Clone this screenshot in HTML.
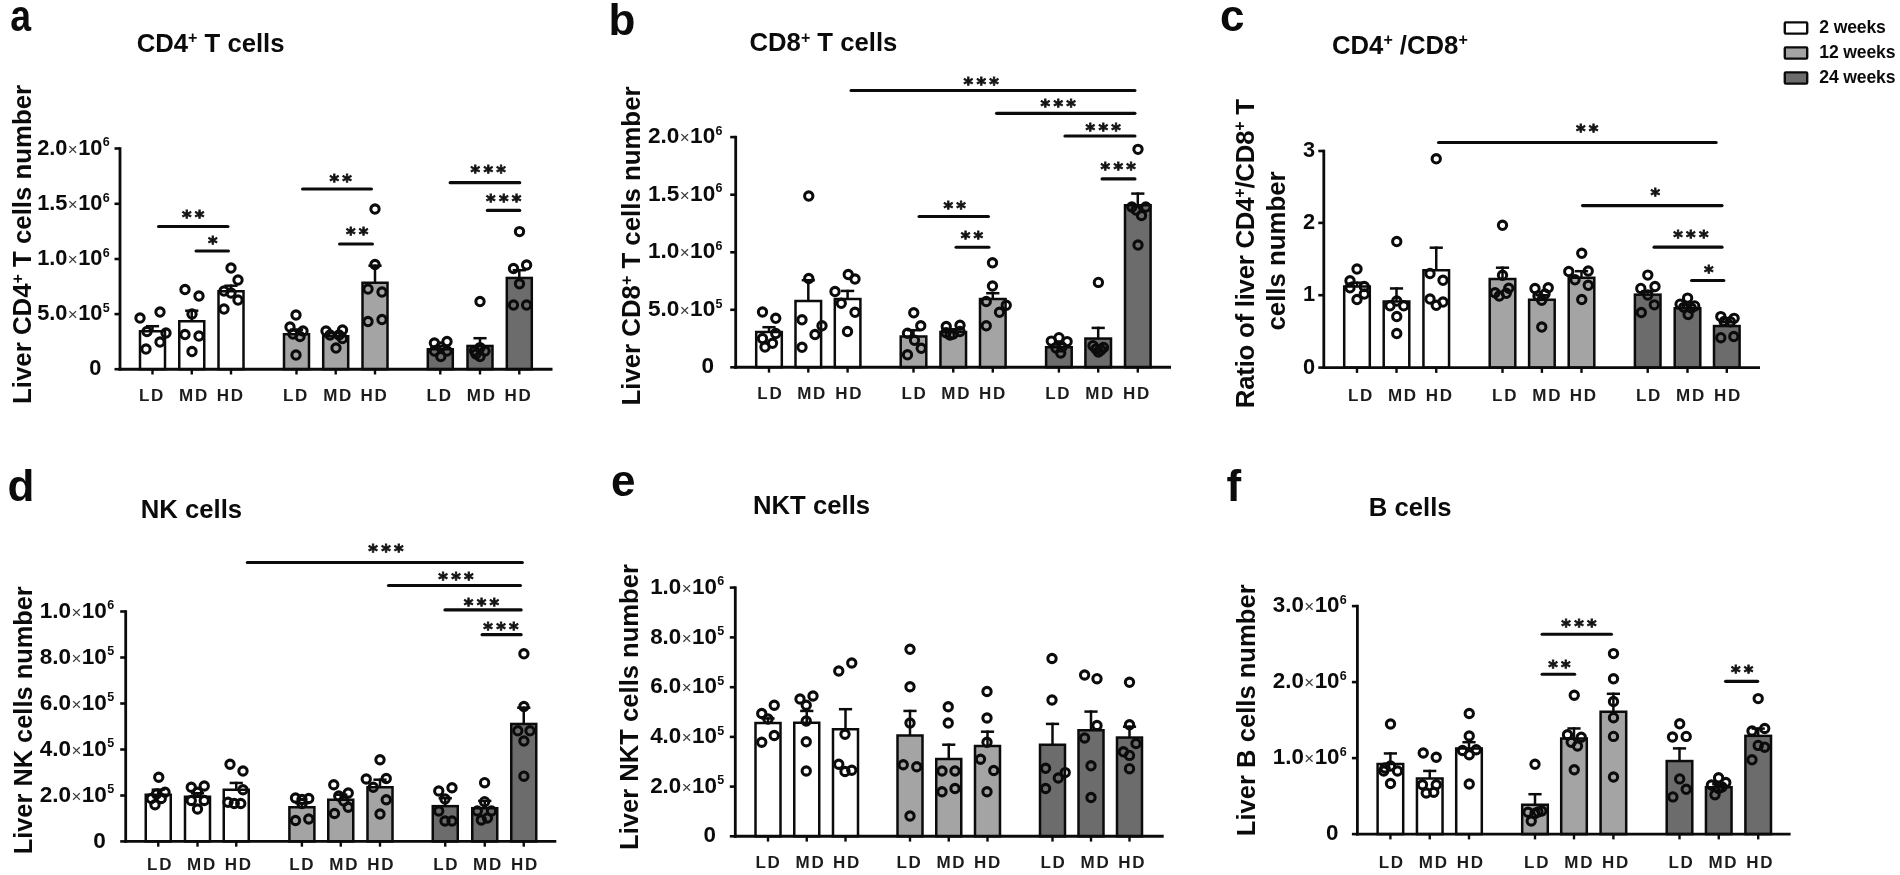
<!DOCTYPE html>
<html lang="en"><head><meta charset="utf-8"><title>Liver lymphocyte subsets</title>
<style>html,body{margin:0;padding:0;background:#fff}body{width:1900px;height:875px;overflow:hidden}svg{display:block;filter:blur(0.5px)}text{font-family:'Liberation Sans', Arial, sans-serif}text.st{font-family:"DejaVu Sans","Liberation Sans",sans-serif}</style></head><body>
<svg width="1900" height="875" viewBox="0 0 1900 875">
<rect width="1900" height="875" fill="#fff"/>
<g id="panel-a">
<rect x="140" y="331.25" width="25" height="37.95" fill="#ffffff" stroke="#0b0b0b" stroke-width="2.5"/>
<line x1="152.5" y1="325" x2="152.5" y2="331" stroke="#0b0b0b" stroke-width="2.5" stroke-linecap="butt"/>
<line x1="145.9" y1="326.2" x2="159.1" y2="326.2" stroke="#0b0b0b" stroke-width="2.5" stroke-linecap="butt"/>
<rect x="179.25" y="321.25" width="25" height="47.95" fill="#ffffff" stroke="#0b0b0b" stroke-width="2.5"/>
<line x1="191.75" y1="309.5" x2="191.75" y2="321" stroke="#0b0b0b" stroke-width="2.5" stroke-linecap="butt"/>
<line x1="185.15" y1="310.7" x2="198.35" y2="310.7" stroke="#0b0b0b" stroke-width="2.5" stroke-linecap="butt"/>
<rect x="218.5" y="291.25" width="25" height="77.95" fill="#ffffff" stroke="#0b0b0b" stroke-width="2.5"/>
<line x1="231" y1="284.5" x2="231" y2="291" stroke="#0b0b0b" stroke-width="2.5" stroke-linecap="butt"/>
<line x1="224.4" y1="285.7" x2="237.6" y2="285.7" stroke="#0b0b0b" stroke-width="2.5" stroke-linecap="butt"/>
<rect x="284" y="334.25" width="25" height="34.95" fill="#a4a4a4" stroke="#0b0b0b" stroke-width="2.5"/>
<line x1="296.5" y1="328.5" x2="296.5" y2="334" stroke="#0b0b0b" stroke-width="2.5" stroke-linecap="butt"/>
<line x1="289.9" y1="329.7" x2="303.1" y2="329.7" stroke="#0b0b0b" stroke-width="2.5" stroke-linecap="butt"/>
<rect x="323.2" y="336.25" width="25" height="32.95" fill="#a4a4a4" stroke="#0b0b0b" stroke-width="2.5"/>
<line x1="335.7" y1="332" x2="335.7" y2="336" stroke="#0b0b0b" stroke-width="2.5" stroke-linecap="butt"/>
<line x1="329.1" y1="333.2" x2="342.3" y2="333.2" stroke="#0b0b0b" stroke-width="2.5" stroke-linecap="butt"/>
<rect x="362.5" y="282.75" width="25" height="86.45" fill="#a4a4a4" stroke="#0b0b0b" stroke-width="2.5"/>
<line x1="375" y1="264.5" x2="375" y2="282.5" stroke="#0b0b0b" stroke-width="2.5" stroke-linecap="butt"/>
<line x1="368.4" y1="265.7" x2="381.6" y2="265.7" stroke="#0b0b0b" stroke-width="2.5" stroke-linecap="butt"/>
<rect x="427.8" y="349.25" width="25" height="19.95" fill="#6c6c6c" stroke="#0b0b0b" stroke-width="2.5"/>
<line x1="440.3" y1="345" x2="440.3" y2="349" stroke="#0b0b0b" stroke-width="2.5" stroke-linecap="butt"/>
<line x1="433.7" y1="346.2" x2="446.9" y2="346.2" stroke="#0b0b0b" stroke-width="2.5" stroke-linecap="butt"/>
<rect x="467.5" y="345.95" width="25" height="23.25" fill="#6c6c6c" stroke="#0b0b0b" stroke-width="2.5"/>
<line x1="480" y1="337" x2="480" y2="345.7" stroke="#0b0b0b" stroke-width="2.5" stroke-linecap="butt"/>
<line x1="473.4" y1="338.2" x2="486.6" y2="338.2" stroke="#0b0b0b" stroke-width="2.5" stroke-linecap="butt"/>
<rect x="506.8" y="277.95" width="25" height="91.25" fill="#6c6c6c" stroke="#0b0b0b" stroke-width="2.5"/>
<line x1="519.3" y1="269" x2="519.3" y2="277.7" stroke="#0b0b0b" stroke-width="2.5" stroke-linecap="butt"/>
<line x1="512.7" y1="270.2" x2="525.9" y2="270.2" stroke="#0b0b0b" stroke-width="2.5" stroke-linecap="butt"/>
<line x1="120" y1="147.2" x2="120" y2="370.6" stroke="#0b0b0b" stroke-width="2.8" stroke-linecap="butt"/>
<line x1="118.6" y1="369.2" x2="552.5" y2="369.2" stroke="#0b0b0b" stroke-width="2.9" stroke-linecap="butt"/>
<line x1="114.5" y1="369.2" x2="120" y2="369.2" stroke="#0b0b0b" stroke-width="2.6" stroke-linecap="butt"/>
<text x="101.4" y="375.3" font-size="21.8" font-weight="bold" text-anchor="end" fill="#0b0b0b">0</text>
<line x1="114.5" y1="314.1" x2="120" y2="314.1" stroke="#0b0b0b" stroke-width="2.6" stroke-linecap="butt"/>
<text x="109.7" y="320.2" font-size="21.8" font-weight="bold" text-anchor="end" fill="#0b0b0b">5.0<tspan font-size="17" font-weight="normal" fill="#3a3a3a" dx="0.4">&#215;</tspan><tspan dx="0.4">10</tspan><tspan font-size="12.5" dy="-8.4" dx="0.3">5</tspan></text>
<line x1="114.5" y1="259" x2="120" y2="259" stroke="#0b0b0b" stroke-width="2.6" stroke-linecap="butt"/>
<text x="109.7" y="265.1" font-size="21.8" font-weight="bold" text-anchor="end" fill="#0b0b0b">1.0<tspan font-size="17" font-weight="normal" fill="#3a3a3a" dx="0.4">&#215;</tspan><tspan dx="0.4">10</tspan><tspan font-size="12.5" dy="-8.4" dx="0.3">6</tspan></text>
<line x1="114.5" y1="203.8" x2="120" y2="203.8" stroke="#0b0b0b" stroke-width="2.6" stroke-linecap="butt"/>
<text x="109.7" y="209.9" font-size="21.8" font-weight="bold" text-anchor="end" fill="#0b0b0b">1.5<tspan font-size="17" font-weight="normal" fill="#3a3a3a" dx="0.4">&#215;</tspan><tspan dx="0.4">10</tspan><tspan font-size="12.5" dy="-8.4" dx="0.3">6</tspan></text>
<line x1="114.5" y1="148.5" x2="120" y2="148.5" stroke="#0b0b0b" stroke-width="2.6" stroke-linecap="butt"/>
<text x="109.7" y="154.6" font-size="21.8" font-weight="bold" text-anchor="end" fill="#0b0b0b">2.0<tspan font-size="17" font-weight="normal" fill="#3a3a3a" dx="0.4">&#215;</tspan><tspan dx="0.4">10</tspan><tspan font-size="12.5" dy="-8.4" dx="0.3">6</tspan></text>
<line x1="152.5" y1="369.2" x2="152.5" y2="374.5" stroke="#0b0b0b" stroke-width="2.4" stroke-linecap="butt"/>
<text transform="translate(151.95 400.8) scale(1 1)" font-size="17" font-weight="bold" text-anchor="middle" letter-spacing="1.7" fill="#1c1c1c">LD</text>
<line x1="191.75" y1="369.2" x2="191.75" y2="374.5" stroke="#0b0b0b" stroke-width="2.4" stroke-linecap="butt"/>
<text transform="translate(193.95 400.8) scale(1 1)" font-size="17" font-weight="bold" text-anchor="middle" letter-spacing="1.7" fill="#1c1c1c">MD</text>
<line x1="231" y1="369.2" x2="231" y2="374.5" stroke="#0b0b0b" stroke-width="2.4" stroke-linecap="butt"/>
<text transform="translate(230.85 400.8) scale(1 1)" font-size="17" font-weight="bold" text-anchor="middle" letter-spacing="1.7" fill="#1c1c1c">HD</text>
<line x1="296.5" y1="369.2" x2="296.5" y2="374.5" stroke="#0b0b0b" stroke-width="2.4" stroke-linecap="butt"/>
<text transform="translate(295.95 400.8) scale(1 1)" font-size="17" font-weight="bold" text-anchor="middle" letter-spacing="1.7" fill="#1c1c1c">LD</text>
<line x1="335.7" y1="369.2" x2="335.7" y2="374.5" stroke="#0b0b0b" stroke-width="2.4" stroke-linecap="butt"/>
<text transform="translate(338.05 400.8) scale(1 1)" font-size="17" font-weight="bold" text-anchor="middle" letter-spacing="1.7" fill="#1c1c1c">MD</text>
<line x1="375" y1="369.2" x2="375" y2="374.5" stroke="#0b0b0b" stroke-width="2.4" stroke-linecap="butt"/>
<text transform="translate(374.55 400.8) scale(1 1)" font-size="17" font-weight="bold" text-anchor="middle" letter-spacing="1.7" fill="#1c1c1c">HD</text>
<line x1="440.3" y1="369.2" x2="440.3" y2="374.5" stroke="#0b0b0b" stroke-width="2.4" stroke-linecap="butt"/>
<text transform="translate(439.65 400.8) scale(1 1)" font-size="17" font-weight="bold" text-anchor="middle" letter-spacing="1.7" fill="#1c1c1c">LD</text>
<line x1="480" y1="369.2" x2="480" y2="374.5" stroke="#0b0b0b" stroke-width="2.4" stroke-linecap="butt"/>
<text transform="translate(481.75 400.8) scale(1 1)" font-size="17" font-weight="bold" text-anchor="middle" letter-spacing="1.7" fill="#1c1c1c">MD</text>
<line x1="519.3" y1="369.2" x2="519.3" y2="374.5" stroke="#0b0b0b" stroke-width="2.4" stroke-linecap="butt"/>
<text transform="translate(518.45 400.8) scale(1 1)" font-size="17" font-weight="bold" text-anchor="middle" letter-spacing="1.7" fill="#1c1c1c">HD</text>
<circle cx="140" cy="318" r="4.15" fill="none" stroke="#0b0b0b" stroke-width="3.05"/>
<circle cx="160" cy="312" r="4.15" fill="none" stroke="#0b0b0b" stroke-width="3.05"/>
<circle cx="147" cy="331.5" r="4.15" fill="none" stroke="#0b0b0b" stroke-width="3.05"/>
<circle cx="166" cy="333" r="4.15" fill="none" stroke="#0b0b0b" stroke-width="3.05"/>
<circle cx="160" cy="342" r="4.15" fill="none" stroke="#0b0b0b" stroke-width="3.05"/>
<circle cx="146" cy="349" r="4.15" fill="none" stroke="#0b0b0b" stroke-width="3.05"/>
<circle cx="185" cy="289.5" r="4.15" fill="none" stroke="#0b0b0b" stroke-width="3.05"/>
<circle cx="199" cy="296" r="4.15" fill="none" stroke="#0b0b0b" stroke-width="3.05"/>
<circle cx="192" cy="314" r="4.15" fill="none" stroke="#0b0b0b" stroke-width="3.05"/>
<circle cx="185" cy="334.5" r="4.15" fill="none" stroke="#0b0b0b" stroke-width="3.05"/>
<circle cx="199" cy="336" r="4.15" fill="none" stroke="#0b0b0b" stroke-width="3.05"/>
<circle cx="192" cy="351.5" r="4.15" fill="none" stroke="#0b0b0b" stroke-width="3.05"/>
<circle cx="231" cy="268" r="4.15" fill="none" stroke="#0b0b0b" stroke-width="3.05"/>
<circle cx="238" cy="280" r="4.15" fill="none" stroke="#0b0b0b" stroke-width="3.05"/>
<circle cx="224" cy="291" r="4.15" fill="none" stroke="#0b0b0b" stroke-width="3.05"/>
<circle cx="231" cy="293" r="4.15" fill="none" stroke="#0b0b0b" stroke-width="3.05"/>
<circle cx="238" cy="300" r="4.15" fill="none" stroke="#0b0b0b" stroke-width="3.05"/>
<circle cx="224" cy="309" r="4.15" fill="none" stroke="#0b0b0b" stroke-width="3.05"/>
<circle cx="296" cy="315" r="4.15" fill="none" stroke="#0b0b0b" stroke-width="3.05"/>
<circle cx="290" cy="327" r="4.15" fill="none" stroke="#0b0b0b" stroke-width="3.05"/>
<circle cx="303" cy="331" r="4.15" fill="none" stroke="#0b0b0b" stroke-width="3.05"/>
<circle cx="293" cy="334" r="4.15" fill="none" stroke="#0b0b0b" stroke-width="3.05"/>
<circle cx="300" cy="336.5" r="4.15" fill="none" stroke="#0b0b0b" stroke-width="3.05"/>
<circle cx="296" cy="355" r="4.15" fill="none" stroke="#0b0b0b" stroke-width="3.05"/>
<circle cx="326" cy="331" r="4.15" fill="none" stroke="#0b0b0b" stroke-width="3.05"/>
<circle cx="342.5" cy="330" r="4.15" fill="none" stroke="#0b0b0b" stroke-width="3.05"/>
<circle cx="330" cy="335" r="4.15" fill="none" stroke="#0b0b0b" stroke-width="3.05"/>
<circle cx="339" cy="335" r="4.15" fill="none" stroke="#0b0b0b" stroke-width="3.05"/>
<circle cx="342.5" cy="338.5" r="4.15" fill="none" stroke="#0b0b0b" stroke-width="3.05"/>
<circle cx="336" cy="348" r="4.15" fill="none" stroke="#0b0b0b" stroke-width="3.05"/>
<circle cx="375" cy="209" r="4.15" fill="none" stroke="#0b0b0b" stroke-width="3.05"/>
<circle cx="375" cy="264.5" r="4.15" fill="none" stroke="#0b0b0b" stroke-width="3.05"/>
<circle cx="368" cy="289" r="4.15" fill="none" stroke="#0b0b0b" stroke-width="3.05"/>
<circle cx="382" cy="292" r="4.15" fill="none" stroke="#0b0b0b" stroke-width="3.05"/>
<circle cx="368" cy="321.5" r="4.15" fill="none" stroke="#0b0b0b" stroke-width="3.05"/>
<circle cx="382" cy="319.5" r="4.15" fill="none" stroke="#0b0b0b" stroke-width="3.05"/>
<circle cx="434.4" cy="343" r="4.15" fill="none" stroke="#0b0b0b" stroke-width="3.05"/>
<circle cx="447" cy="341.5" r="4.15" fill="none" stroke="#0b0b0b" stroke-width="3.05"/>
<circle cx="434.4" cy="351" r="4.15" fill="none" stroke="#0b0b0b" stroke-width="3.05"/>
<circle cx="447" cy="351" r="4.15" fill="none" stroke="#0b0b0b" stroke-width="3.05"/>
<circle cx="440.8" cy="356.5" r="4.15" fill="none" stroke="#0b0b0b" stroke-width="3.05"/>
<circle cx="440.8" cy="347" r="4.15" fill="none" stroke="#0b0b0b" stroke-width="3.05"/>
<circle cx="480" cy="301.5" r="4.15" fill="none" stroke="#0b0b0b" stroke-width="3.05"/>
<circle cx="474.5" cy="351" r="4.15" fill="none" stroke="#0b0b0b" stroke-width="3.05"/>
<circle cx="485" cy="351" r="4.15" fill="none" stroke="#0b0b0b" stroke-width="3.05"/>
<circle cx="480" cy="356.5" r="4.15" fill="none" stroke="#0b0b0b" stroke-width="3.05"/>
<circle cx="480" cy="347.6" r="4.15" fill="none" stroke="#0b0b0b" stroke-width="3.05"/>
<circle cx="476" cy="354" r="4.15" fill="none" stroke="#0b0b0b" stroke-width="3.05"/>
<circle cx="519.5" cy="231.6" r="4.15" fill="none" stroke="#0b0b0b" stroke-width="3.05"/>
<circle cx="513.5" cy="268.5" r="4.15" fill="none" stroke="#0b0b0b" stroke-width="3.05"/>
<circle cx="526.6" cy="265" r="4.15" fill="none" stroke="#0b0b0b" stroke-width="3.05"/>
<circle cx="519.5" cy="283.8" r="4.15" fill="none" stroke="#0b0b0b" stroke-width="3.05"/>
<circle cx="513.5" cy="305" r="4.15" fill="none" stroke="#0b0b0b" stroke-width="3.05"/>
<circle cx="526.6" cy="305" r="4.15" fill="none" stroke="#0b0b0b" stroke-width="3.05"/>
<line x1="158.6" y1="226.5" x2="227.9" y2="226.5" stroke="#0b0b0b" stroke-width="3.2" stroke-linecap="round"/>
<text class="st" x="194.85" y="223.1" font-size="18.3" font-weight="bold" text-anchor="middle" letter-spacing="3.3" fill="#131313" stroke="#131313" stroke-width="0.8">**</text>
<line x1="196.1" y1="251" x2="228.4" y2="251" stroke="#0b0b0b" stroke-width="3.2" stroke-linecap="round"/>
<text class="st" x="214.35" y="248.6" font-size="18.3" font-weight="bold" text-anchor="middle" letter-spacing="3.3" fill="#131313" stroke="#131313" stroke-width="0.8">*</text>
<line x1="302.6" y1="189" x2="371.4" y2="189" stroke="#0b0b0b" stroke-width="3.2" stroke-linecap="round"/>
<text class="st" x="342.35" y="186.6" font-size="18.3" font-weight="bold" text-anchor="middle" letter-spacing="3.3" fill="#131313" stroke="#131313" stroke-width="0.8">**</text>
<line x1="339.6" y1="244" x2="372.4" y2="244" stroke="#0b0b0b" stroke-width="3.2" stroke-linecap="round"/>
<text class="st" x="358.85" y="240.1" font-size="18.3" font-weight="bold" text-anchor="middle" letter-spacing="3.3" fill="#131313" stroke="#131313" stroke-width="0.8">**</text>
<line x1="450.2" y1="182.7" x2="519.7" y2="182.7" stroke="#0b0b0b" stroke-width="3.2" stroke-linecap="round"/>
<text class="st" x="489.85" y="178.2" font-size="18.3" font-weight="bold" text-anchor="middle" letter-spacing="3.3" fill="#131313" stroke="#131313" stroke-width="0.8">***</text>
<line x1="487.4" y1="210.4" x2="519.7" y2="210.4" stroke="#0b0b0b" stroke-width="3.2" stroke-linecap="round"/>
<text class="st" x="505.35" y="207.2" font-size="18.3" font-weight="bold" text-anchor="middle" letter-spacing="3.3" fill="#131313" stroke="#131313" stroke-width="0.8">***</text>
<text transform="translate(10.15 30.5) scale(0.85 1)" font-size="44" font-weight="bold" fill="#0b0b0b">a</text>
<text x="136.7" y="51.5" font-size="25.7" font-weight="bold" text-anchor="start" fill="#0b0b0b">CD4<tspan font-size="16" dy="-8.5">+</tspan><tspan dy="8.5"> T cells</tspan></text>
<text transform="translate(31 244.4) rotate(-90)" font-size="25.8" font-weight="bold" text-anchor="middle" letter-spacing="0" fill="#0b0b0b">Liver CD4<tspan font-size="16" dy="-8.5">+</tspan><tspan dy="8.5"> T cells number</tspan></text>
</g>
<g id="panel-b">
<rect x="756.2" y="332" width="25.6" height="35.3" fill="#ffffff" stroke="#0b0b0b" stroke-width="2.5"/>
<line x1="769" y1="326" x2="769" y2="331.75" stroke="#0b0b0b" stroke-width="2.5" stroke-linecap="butt"/>
<line x1="762.4" y1="327.2" x2="775.6" y2="327.2" stroke="#0b0b0b" stroke-width="2.5" stroke-linecap="butt"/>
<rect x="795.5" y="301" width="25.6" height="66.3" fill="#ffffff" stroke="#0b0b0b" stroke-width="2.5"/>
<line x1="808.3" y1="279" x2="808.3" y2="300.75" stroke="#0b0b0b" stroke-width="2.5" stroke-linecap="butt"/>
<line x1="801.7" y1="280.2" x2="814.9" y2="280.2" stroke="#0b0b0b" stroke-width="2.5" stroke-linecap="butt"/>
<rect x="834.8" y="299" width="25.6" height="68.3" fill="#ffffff" stroke="#0b0b0b" stroke-width="2.5"/>
<line x1="847.6" y1="289.75" x2="847.6" y2="298.75" stroke="#0b0b0b" stroke-width="2.5" stroke-linecap="butt"/>
<line x1="841" y1="290.95" x2="854.2" y2="290.95" stroke="#0b0b0b" stroke-width="2.5" stroke-linecap="butt"/>
<rect x="900.7" y="336.5" width="25.6" height="30.8" fill="#a4a4a4" stroke="#0b0b0b" stroke-width="2.5"/>
<line x1="913.5" y1="329" x2="913.5" y2="336.25" stroke="#0b0b0b" stroke-width="2.5" stroke-linecap="butt"/>
<line x1="906.9" y1="330.2" x2="920.1" y2="330.2" stroke="#0b0b0b" stroke-width="2.5" stroke-linecap="butt"/>
<rect x="940.45" y="332" width="25.6" height="35.3" fill="#a4a4a4" stroke="#0b0b0b" stroke-width="2.5"/>
<line x1="953.25" y1="328" x2="953.25" y2="331.75" stroke="#0b0b0b" stroke-width="2.5" stroke-linecap="butt"/>
<line x1="946.65" y1="329.2" x2="959.85" y2="329.2" stroke="#0b0b0b" stroke-width="2.5" stroke-linecap="butt"/>
<rect x="980" y="299" width="25.6" height="68.3" fill="#a4a4a4" stroke="#0b0b0b" stroke-width="2.5"/>
<line x1="992.8" y1="292" x2="992.8" y2="298.75" stroke="#0b0b0b" stroke-width="2.5" stroke-linecap="butt"/>
<line x1="986.2" y1="293.2" x2="999.4" y2="293.2" stroke="#0b0b0b" stroke-width="2.5" stroke-linecap="butt"/>
<rect x="1046.1" y="347.25" width="25.6" height="20.05" fill="#6c6c6c" stroke="#0b0b0b" stroke-width="2.5"/>
<line x1="1058.9" y1="343" x2="1058.9" y2="347" stroke="#0b0b0b" stroke-width="2.5" stroke-linecap="butt"/>
<line x1="1052.3" y1="344.2" x2="1065.5" y2="344.2" stroke="#0b0b0b" stroke-width="2.5" stroke-linecap="butt"/>
<rect x="1085.4" y="338.55" width="25.6" height="28.75" fill="#6c6c6c" stroke="#0b0b0b" stroke-width="2.5"/>
<line x1="1098.2" y1="326.7" x2="1098.2" y2="338.3" stroke="#0b0b0b" stroke-width="2.5" stroke-linecap="butt"/>
<line x1="1091.6" y1="327.9" x2="1104.8" y2="327.9" stroke="#0b0b0b" stroke-width="2.5" stroke-linecap="butt"/>
<rect x="1125" y="205.25" width="25.6" height="162.05" fill="#6c6c6c" stroke="#0b0b0b" stroke-width="2.5"/>
<line x1="1137.8" y1="192.4" x2="1137.8" y2="205" stroke="#0b0b0b" stroke-width="2.5" stroke-linecap="butt"/>
<line x1="1131.2" y1="193.6" x2="1144.4" y2="193.6" stroke="#0b0b0b" stroke-width="2.5" stroke-linecap="butt"/>
<line x1="735.7" y1="135.8" x2="735.7" y2="368.7" stroke="#0b0b0b" stroke-width="2.8" stroke-linecap="butt"/>
<line x1="734.3" y1="367.3" x2="1171" y2="367.3" stroke="#0b0b0b" stroke-width="2.9" stroke-linecap="butt"/>
<line x1="730.2" y1="367.3" x2="735.7" y2="367.3" stroke="#0b0b0b" stroke-width="2.6" stroke-linecap="butt"/>
<text x="714.2" y="373.4" font-size="22.6" font-weight="bold" text-anchor="end" fill="#0b0b0b">0</text>
<line x1="730.2" y1="309.8" x2="735.7" y2="309.8" stroke="#0b0b0b" stroke-width="2.6" stroke-linecap="butt"/>
<text x="722.5" y="315.9" font-size="22.6" font-weight="bold" text-anchor="end" fill="#0b0b0b">5.0<tspan font-size="17" font-weight="normal" fill="#3a3a3a" dx="0.4">&#215;</tspan><tspan dx="0.4">10</tspan><tspan font-size="12.5" dy="-8.4" dx="0.3">5</tspan></text>
<line x1="730.2" y1="252.3" x2="735.7" y2="252.3" stroke="#0b0b0b" stroke-width="2.6" stroke-linecap="butt"/>
<text x="722.5" y="258.4" font-size="22.6" font-weight="bold" text-anchor="end" fill="#0b0b0b">1.0<tspan font-size="17" font-weight="normal" fill="#3a3a3a" dx="0.4">&#215;</tspan><tspan dx="0.4">10</tspan><tspan font-size="12.5" dy="-8.4" dx="0.3">6</tspan></text>
<line x1="730.2" y1="194.7" x2="735.7" y2="194.7" stroke="#0b0b0b" stroke-width="2.6" stroke-linecap="butt"/>
<text x="722.5" y="200.8" font-size="22.6" font-weight="bold" text-anchor="end" fill="#0b0b0b">1.5<tspan font-size="17" font-weight="normal" fill="#3a3a3a" dx="0.4">&#215;</tspan><tspan dx="0.4">10</tspan><tspan font-size="12.5" dy="-8.4" dx="0.3">6</tspan></text>
<line x1="730.2" y1="137.1" x2="735.7" y2="137.1" stroke="#0b0b0b" stroke-width="2.6" stroke-linecap="butt"/>
<text x="722.5" y="143.2" font-size="22.6" font-weight="bold" text-anchor="end" fill="#0b0b0b">2.0<tspan font-size="17" font-weight="normal" fill="#3a3a3a" dx="0.4">&#215;</tspan><tspan dx="0.4">10</tspan><tspan font-size="12.5" dy="-8.4" dx="0.3">6</tspan></text>
<line x1="769" y1="367.3" x2="769" y2="372.6" stroke="#0b0b0b" stroke-width="2.4" stroke-linecap="butt"/>
<text transform="translate(770.35 399) scale(1 1)" font-size="17" font-weight="bold" text-anchor="middle" letter-spacing="1.7" fill="#1c1c1c">LD</text>
<line x1="808.3" y1="367.3" x2="808.3" y2="372.6" stroke="#0b0b0b" stroke-width="2.4" stroke-linecap="butt"/>
<text transform="translate(812.15 399) scale(1 1)" font-size="17" font-weight="bold" text-anchor="middle" letter-spacing="1.7" fill="#1c1c1c">MD</text>
<line x1="847.6" y1="367.3" x2="847.6" y2="372.6" stroke="#0b0b0b" stroke-width="2.4" stroke-linecap="butt"/>
<text transform="translate(849.15 399) scale(1 1)" font-size="17" font-weight="bold" text-anchor="middle" letter-spacing="1.7" fill="#1c1c1c">HD</text>
<line x1="913.5" y1="367.3" x2="913.5" y2="372.6" stroke="#0b0b0b" stroke-width="2.4" stroke-linecap="butt"/>
<text transform="translate(914.55 399) scale(1 1)" font-size="17" font-weight="bold" text-anchor="middle" letter-spacing="1.7" fill="#1c1c1c">LD</text>
<line x1="953.25" y1="367.3" x2="953.25" y2="372.6" stroke="#0b0b0b" stroke-width="2.4" stroke-linecap="butt"/>
<text transform="translate(956.25 399) scale(1 1)" font-size="17" font-weight="bold" text-anchor="middle" letter-spacing="1.7" fill="#1c1c1c">MD</text>
<line x1="992.8" y1="367.3" x2="992.8" y2="372.6" stroke="#0b0b0b" stroke-width="2.4" stroke-linecap="butt"/>
<text transform="translate(992.95 399) scale(1 1)" font-size="17" font-weight="bold" text-anchor="middle" letter-spacing="1.7" fill="#1c1c1c">HD</text>
<line x1="1058.9" y1="367.3" x2="1058.9" y2="372.6" stroke="#0b0b0b" stroke-width="2.4" stroke-linecap="butt"/>
<text transform="translate(1058.25 399) scale(1 1)" font-size="17" font-weight="bold" text-anchor="middle" letter-spacing="1.7" fill="#1c1c1c">LD</text>
<line x1="1098.2" y1="367.3" x2="1098.2" y2="372.6" stroke="#0b0b0b" stroke-width="2.4" stroke-linecap="butt"/>
<text transform="translate(1100.15 399) scale(1 1)" font-size="17" font-weight="bold" text-anchor="middle" letter-spacing="1.7" fill="#1c1c1c">MD</text>
<line x1="1137.8" y1="367.3" x2="1137.8" y2="372.6" stroke="#0b0b0b" stroke-width="2.4" stroke-linecap="butt"/>
<text transform="translate(1137.05 399) scale(1 1)" font-size="17" font-weight="bold" text-anchor="middle" letter-spacing="1.7" fill="#1c1c1c">HD</text>
<circle cx="762.5" cy="312" r="4.15" fill="none" stroke="#0b0b0b" stroke-width="3.05"/>
<circle cx="775.75" cy="318.25" r="4.15" fill="none" stroke="#0b0b0b" stroke-width="3.05"/>
<circle cx="775.75" cy="333.5" r="4.15" fill="none" stroke="#0b0b0b" stroke-width="3.05"/>
<circle cx="762.5" cy="338.5" r="4.15" fill="none" stroke="#0b0b0b" stroke-width="3.05"/>
<circle cx="772.5" cy="343.25" r="4.15" fill="none" stroke="#0b0b0b" stroke-width="3.05"/>
<circle cx="765" cy="347" r="4.15" fill="none" stroke="#0b0b0b" stroke-width="3.05"/>
<circle cx="808.75" cy="196" r="4.15" fill="none" stroke="#0b0b0b" stroke-width="3.05"/>
<circle cx="808.75" cy="278.5" r="4.15" fill="none" stroke="#0b0b0b" stroke-width="3.05"/>
<circle cx="802" cy="319.75" r="4.15" fill="none" stroke="#0b0b0b" stroke-width="3.05"/>
<circle cx="822" cy="325.75" r="4.15" fill="none" stroke="#0b0b0b" stroke-width="3.05"/>
<circle cx="815" cy="334.5" r="4.15" fill="none" stroke="#0b0b0b" stroke-width="3.05"/>
<circle cx="802" cy="347.25" r="4.15" fill="none" stroke="#0b0b0b" stroke-width="3.05"/>
<circle cx="848.25" cy="274.5" r="4.15" fill="none" stroke="#0b0b0b" stroke-width="3.05"/>
<circle cx="855" cy="279" r="4.15" fill="none" stroke="#0b0b0b" stroke-width="3.05"/>
<circle cx="835" cy="291.5" r="4.15" fill="none" stroke="#0b0b0b" stroke-width="3.05"/>
<circle cx="841.25" cy="303.25" r="4.15" fill="none" stroke="#0b0b0b" stroke-width="3.05"/>
<circle cx="855" cy="312.25" r="4.15" fill="none" stroke="#0b0b0b" stroke-width="3.05"/>
<circle cx="847.5" cy="331.5" r="4.15" fill="none" stroke="#0b0b0b" stroke-width="3.05"/>
<circle cx="913.75" cy="312.75" r="4.15" fill="none" stroke="#0b0b0b" stroke-width="3.05"/>
<circle cx="920.75" cy="325.75" r="4.15" fill="none" stroke="#0b0b0b" stroke-width="3.05"/>
<circle cx="907.5" cy="333.25" r="4.15" fill="none" stroke="#0b0b0b" stroke-width="3.05"/>
<circle cx="914.5" cy="340.25" r="4.15" fill="none" stroke="#0b0b0b" stroke-width="3.05"/>
<circle cx="921.25" cy="348.25" r="4.15" fill="none" stroke="#0b0b0b" stroke-width="3.05"/>
<circle cx="907.5" cy="354.75" r="4.15" fill="none" stroke="#0b0b0b" stroke-width="3.05"/>
<circle cx="946.25" cy="326.5" r="4.15" fill="none" stroke="#0b0b0b" stroke-width="3.05"/>
<circle cx="960" cy="325.25" r="4.15" fill="none" stroke="#0b0b0b" stroke-width="3.05"/>
<circle cx="946" cy="332.75" r="4.15" fill="none" stroke="#0b0b0b" stroke-width="3.05"/>
<circle cx="953.25" cy="334" r="4.15" fill="none" stroke="#0b0b0b" stroke-width="3.05"/>
<circle cx="960" cy="331.5" r="4.15" fill="none" stroke="#0b0b0b" stroke-width="3.05"/>
<circle cx="950" cy="335" r="4.15" fill="none" stroke="#0b0b0b" stroke-width="3.05"/>
<circle cx="992.5" cy="262.75" r="4.15" fill="none" stroke="#0b0b0b" stroke-width="3.05"/>
<circle cx="992.5" cy="286" r="4.15" fill="none" stroke="#0b0b0b" stroke-width="3.05"/>
<circle cx="986.25" cy="301.5" r="4.15" fill="none" stroke="#0b0b0b" stroke-width="3.05"/>
<circle cx="1006.25" cy="305.25" r="4.15" fill="none" stroke="#0b0b0b" stroke-width="3.05"/>
<circle cx="999.5" cy="312.25" r="4.15" fill="none" stroke="#0b0b0b" stroke-width="3.05"/>
<circle cx="986.25" cy="325.75" r="4.15" fill="none" stroke="#0b0b0b" stroke-width="3.05"/>
<circle cx="1051.3" cy="341.1" r="4.15" fill="none" stroke="#0b0b0b" stroke-width="3.05"/>
<circle cx="1059" cy="337.7" r="4.15" fill="none" stroke="#0b0b0b" stroke-width="3.05"/>
<circle cx="1067.1" cy="341.6" r="4.15" fill="none" stroke="#0b0b0b" stroke-width="3.05"/>
<circle cx="1056" cy="348" r="4.15" fill="none" stroke="#0b0b0b" stroke-width="3.05"/>
<circle cx="1060.7" cy="353.1" r="4.15" fill="none" stroke="#0b0b0b" stroke-width="3.05"/>
<circle cx="1062" cy="347" r="4.15" fill="none" stroke="#0b0b0b" stroke-width="3.05"/>
<circle cx="1098.4" cy="282.4" r="4.15" fill="none" stroke="#0b0b0b" stroke-width="3.05"/>
<circle cx="1093" cy="345.7" r="4.15" fill="none" stroke="#0b0b0b" stroke-width="3.05"/>
<circle cx="1103.5" cy="347.5" r="4.15" fill="none" stroke="#0b0b0b" stroke-width="3.05"/>
<circle cx="1098.4" cy="352" r="4.15" fill="none" stroke="#0b0b0b" stroke-width="3.05"/>
<circle cx="1096" cy="349" r="4.15" fill="none" stroke="#0b0b0b" stroke-width="3.05"/>
<circle cx="1101" cy="350" r="4.15" fill="none" stroke="#0b0b0b" stroke-width="3.05"/>
<circle cx="1138" cy="149.3" r="4.15" fill="none" stroke="#0b0b0b" stroke-width="3.05"/>
<circle cx="1131.8" cy="207" r="4.15" fill="none" stroke="#0b0b0b" stroke-width="3.05"/>
<circle cx="1145.8" cy="207" r="4.15" fill="none" stroke="#0b0b0b" stroke-width="3.05"/>
<circle cx="1141.5" cy="215.6" r="4.15" fill="none" stroke="#0b0b0b" stroke-width="3.05"/>
<circle cx="1138" cy="245" r="4.15" fill="none" stroke="#0b0b0b" stroke-width="3.05"/>
<circle cx="1136" cy="210" r="4.15" fill="none" stroke="#0b0b0b" stroke-width="3.05"/>
<line x1="851.1" y1="90.5" x2="1134.9" y2="90.5" stroke="#0b0b0b" stroke-width="3.2" stroke-linecap="round"/>
<text class="st" x="982.85" y="89.6" font-size="18.3" font-weight="bold" text-anchor="middle" letter-spacing="3.3" fill="#131313" stroke="#131313" stroke-width="0.8">***</text>
<line x1="996.6" y1="113.3" x2="1134.9" y2="113.3" stroke="#0b0b0b" stroke-width="3.2" stroke-linecap="round"/>
<text class="st" x="1059.85" y="112.2" font-size="18.3" font-weight="bold" text-anchor="middle" letter-spacing="3.3" fill="#131313" stroke="#131313" stroke-width="0.8">***</text>
<line x1="1065" y1="136" x2="1134.9" y2="136" stroke="#0b0b0b" stroke-width="3.2" stroke-linecap="round"/>
<text class="st" x="1104.85" y="135.6" font-size="18.3" font-weight="bold" text-anchor="middle" letter-spacing="3.3" fill="#131313" stroke="#131313" stroke-width="0.8">***</text>
<line x1="1102.1" y1="178.9" x2="1134.9" y2="178.9" stroke="#0b0b0b" stroke-width="3.2" stroke-linecap="round"/>
<text class="st" x="1119.85" y="174.6" font-size="18.3" font-weight="bold" text-anchor="middle" letter-spacing="3.3" fill="#131313" stroke="#131313" stroke-width="0.8">***</text>
<line x1="919.1" y1="216.5" x2="988.4" y2="216.5" stroke="#0b0b0b" stroke-width="3.2" stroke-linecap="round"/>
<text class="st" x="956.35" y="214.1" font-size="18.3" font-weight="bold" text-anchor="middle" letter-spacing="3.3" fill="#131313" stroke="#131313" stroke-width="0.8">**</text>
<line x1="956.1" y1="247.25" x2="988.9" y2="247.25" stroke="#0b0b0b" stroke-width="3.2" stroke-linecap="round"/>
<text class="st" x="973.6" y="243.6" font-size="18.3" font-weight="bold" text-anchor="middle" letter-spacing="3.3" fill="#131313" stroke="#131313" stroke-width="0.8">**</text>
<text transform="translate(608.5 35.3) scale(1 1)" font-size="44" font-weight="bold" fill="#0b0b0b">b</text>
<text x="749.5" y="51" font-size="25.7" font-weight="bold" text-anchor="start" fill="#0b0b0b">CD8<tspan font-size="16" dy="-8.5">+</tspan><tspan dy="8.5"> T cells</tspan></text>
<text transform="translate(640 246) rotate(-90)" font-size="25.8" font-weight="bold" text-anchor="middle" letter-spacing="0" fill="#0b0b0b">Liver CD8<tspan font-size="16" dy="-8.5">+</tspan><tspan dy="8.5"> T cells number</tspan></text>
</g>
<g id="panel-c">
<rect x="1344.2" y="286.5" width="25.6" height="81.1" fill="#ffffff" stroke="#0b0b0b" stroke-width="2.5"/>
<line x1="1357" y1="281.5" x2="1357" y2="286.25" stroke="#0b0b0b" stroke-width="2.5" stroke-linecap="butt"/>
<line x1="1350.4" y1="282.7" x2="1363.6" y2="282.7" stroke="#0b0b0b" stroke-width="2.5" stroke-linecap="butt"/>
<rect x="1383.7" y="301.5" width="25.6" height="66.1" fill="#ffffff" stroke="#0b0b0b" stroke-width="2.5"/>
<line x1="1396.5" y1="287.25" x2="1396.5" y2="301.25" stroke="#0b0b0b" stroke-width="2.5" stroke-linecap="butt"/>
<line x1="1389.9" y1="288.45" x2="1403.1" y2="288.45" stroke="#0b0b0b" stroke-width="2.5" stroke-linecap="butt"/>
<rect x="1423.45" y="270.25" width="25.6" height="97.35" fill="#ffffff" stroke="#0b0b0b" stroke-width="2.5"/>
<line x1="1436.25" y1="246.5" x2="1436.25" y2="270" stroke="#0b0b0b" stroke-width="2.5" stroke-linecap="butt"/>
<line x1="1429.65" y1="247.7" x2="1442.85" y2="247.7" stroke="#0b0b0b" stroke-width="2.5" stroke-linecap="butt"/>
<rect x="1489.7" y="279" width="25.6" height="88.6" fill="#a4a4a4" stroke="#0b0b0b" stroke-width="2.5"/>
<line x1="1502.5" y1="266.5" x2="1502.5" y2="278.75" stroke="#0b0b0b" stroke-width="2.5" stroke-linecap="butt"/>
<line x1="1495.9" y1="267.7" x2="1509.1" y2="267.7" stroke="#0b0b0b" stroke-width="2.5" stroke-linecap="butt"/>
<rect x="1529.1" y="299.75" width="25.6" height="67.85" fill="#a4a4a4" stroke="#0b0b0b" stroke-width="2.5"/>
<line x1="1541.9" y1="294" x2="1541.9" y2="299.5" stroke="#0b0b0b" stroke-width="2.5" stroke-linecap="butt"/>
<line x1="1535.3" y1="295.2" x2="1548.5" y2="295.2" stroke="#0b0b0b" stroke-width="2.5" stroke-linecap="butt"/>
<rect x="1568.7" y="277.75" width="25.6" height="89.85" fill="#a4a4a4" stroke="#0b0b0b" stroke-width="2.5"/>
<line x1="1581.5" y1="270" x2="1581.5" y2="277.5" stroke="#0b0b0b" stroke-width="2.5" stroke-linecap="butt"/>
<line x1="1574.9" y1="271.2" x2="1588.1" y2="271.2" stroke="#0b0b0b" stroke-width="2.5" stroke-linecap="butt"/>
<rect x="1634.9" y="294.65" width="25.6" height="72.95" fill="#6c6c6c" stroke="#0b0b0b" stroke-width="2.5"/>
<line x1="1647.7" y1="290" x2="1647.7" y2="294.4" stroke="#0b0b0b" stroke-width="2.5" stroke-linecap="butt"/>
<line x1="1641.1" y1="291.2" x2="1654.3" y2="291.2" stroke="#0b0b0b" stroke-width="2.5" stroke-linecap="butt"/>
<rect x="1674.7" y="308.25" width="25.6" height="59.35" fill="#6c6c6c" stroke="#0b0b0b" stroke-width="2.5"/>
<line x1="1687.5" y1="304" x2="1687.5" y2="308" stroke="#0b0b0b" stroke-width="2.5" stroke-linecap="butt"/>
<line x1="1680.9" y1="305.2" x2="1694.1" y2="305.2" stroke="#0b0b0b" stroke-width="2.5" stroke-linecap="butt"/>
<rect x="1714" y="326.05" width="25.6" height="41.55" fill="#6c6c6c" stroke="#0b0b0b" stroke-width="2.5"/>
<line x1="1726.8" y1="321" x2="1726.8" y2="325.8" stroke="#0b0b0b" stroke-width="2.5" stroke-linecap="butt"/>
<line x1="1720.2" y1="322.2" x2="1733.4" y2="322.2" stroke="#0b0b0b" stroke-width="2.5" stroke-linecap="butt"/>
<line x1="1323.8" y1="149.7" x2="1323.8" y2="369" stroke="#0b0b0b" stroke-width="2.8" stroke-linecap="butt"/>
<line x1="1322.4" y1="367.6" x2="1760" y2="367.6" stroke="#0b0b0b" stroke-width="2.9" stroke-linecap="butt"/>
<line x1="1318.3" y1="367.6" x2="1323.8" y2="367.6" stroke="#0b0b0b" stroke-width="2.6" stroke-linecap="butt"/>
<text x="1315.2" y="373.7" font-size="21.8" font-weight="bold" text-anchor="end" fill="#0b0b0b">0</text>
<line x1="1318.3" y1="295.2" x2="1323.8" y2="295.2" stroke="#0b0b0b" stroke-width="2.6" stroke-linecap="butt"/>
<text x="1315.2" y="301.3" font-size="21.8" font-weight="bold" text-anchor="end" fill="#0b0b0b">1</text>
<line x1="1318.3" y1="222.9" x2="1323.8" y2="222.9" stroke="#0b0b0b" stroke-width="2.6" stroke-linecap="butt"/>
<text x="1315.2" y="229" font-size="21.8" font-weight="bold" text-anchor="end" fill="#0b0b0b">2</text>
<line x1="1318.3" y1="151" x2="1323.8" y2="151" stroke="#0b0b0b" stroke-width="2.6" stroke-linecap="butt"/>
<text x="1315.2" y="157.1" font-size="21.8" font-weight="bold" text-anchor="end" fill="#0b0b0b">3</text>
<line x1="1357" y1="367.6" x2="1357" y2="372.9" stroke="#0b0b0b" stroke-width="2.4" stroke-linecap="butt"/>
<text transform="translate(1361.05 400.8) scale(1 1)" font-size="17" font-weight="bold" text-anchor="middle" letter-spacing="1.7" fill="#1c1c1c">LD</text>
<line x1="1396.5" y1="367.6" x2="1396.5" y2="372.9" stroke="#0b0b0b" stroke-width="2.4" stroke-linecap="butt"/>
<text transform="translate(1402.85 400.8) scale(1 1)" font-size="17" font-weight="bold" text-anchor="middle" letter-spacing="1.7" fill="#1c1c1c">MD</text>
<line x1="1436.25" y1="367.6" x2="1436.25" y2="372.9" stroke="#0b0b0b" stroke-width="2.4" stroke-linecap="butt"/>
<text transform="translate(1439.75 400.8) scale(1 1)" font-size="17" font-weight="bold" text-anchor="middle" letter-spacing="1.7" fill="#1c1c1c">HD</text>
<line x1="1502.5" y1="367.6" x2="1502.5" y2="372.9" stroke="#0b0b0b" stroke-width="2.4" stroke-linecap="butt"/>
<text transform="translate(1505.15 400.8) scale(1 1)" font-size="17" font-weight="bold" text-anchor="middle" letter-spacing="1.7" fill="#1c1c1c">LD</text>
<line x1="1541.9" y1="367.6" x2="1541.9" y2="372.9" stroke="#0b0b0b" stroke-width="2.4" stroke-linecap="butt"/>
<text transform="translate(1547.25 400.8) scale(1 1)" font-size="17" font-weight="bold" text-anchor="middle" letter-spacing="1.7" fill="#1c1c1c">MD</text>
<line x1="1581.5" y1="367.6" x2="1581.5" y2="372.9" stroke="#0b0b0b" stroke-width="2.4" stroke-linecap="butt"/>
<text transform="translate(1583.85 400.8) scale(1 1)" font-size="17" font-weight="bold" text-anchor="middle" letter-spacing="1.7" fill="#1c1c1c">HD</text>
<line x1="1647.7" y1="367.6" x2="1647.7" y2="372.9" stroke="#0b0b0b" stroke-width="2.4" stroke-linecap="butt"/>
<text transform="translate(1649.05 400.8) scale(1 1)" font-size="17" font-weight="bold" text-anchor="middle" letter-spacing="1.7" fill="#1c1c1c">LD</text>
<line x1="1687.5" y1="367.6" x2="1687.5" y2="372.9" stroke="#0b0b0b" stroke-width="2.4" stroke-linecap="butt"/>
<text transform="translate(1690.95 400.8) scale(1 1)" font-size="17" font-weight="bold" text-anchor="middle" letter-spacing="1.7" fill="#1c1c1c">MD</text>
<line x1="1726.8" y1="367.6" x2="1726.8" y2="372.9" stroke="#0b0b0b" stroke-width="2.4" stroke-linecap="butt"/>
<text transform="translate(1728.05 400.8) scale(1 1)" font-size="17" font-weight="bold" text-anchor="middle" letter-spacing="1.7" fill="#1c1c1c">HD</text>
<circle cx="1357" cy="269" r="4.15" fill="none" stroke="#0b0b0b" stroke-width="3.05"/>
<circle cx="1350" cy="280.75" r="4.15" fill="none" stroke="#0b0b0b" stroke-width="3.05"/>
<circle cx="1350" cy="287.75" r="4.15" fill="none" stroke="#0b0b0b" stroke-width="3.05"/>
<circle cx="1364.25" cy="286.5" r="4.15" fill="none" stroke="#0b0b0b" stroke-width="3.05"/>
<circle cx="1364.25" cy="294" r="4.15" fill="none" stroke="#0b0b0b" stroke-width="3.05"/>
<circle cx="1357" cy="299.5" r="4.15" fill="none" stroke="#0b0b0b" stroke-width="3.05"/>
<circle cx="1396.75" cy="241.5" r="4.15" fill="none" stroke="#0b0b0b" stroke-width="3.05"/>
<circle cx="1390" cy="305.75" r="4.15" fill="none" stroke="#0b0b0b" stroke-width="3.05"/>
<circle cx="1403.75" cy="305.75" r="4.15" fill="none" stroke="#0b0b0b" stroke-width="3.05"/>
<circle cx="1396.75" cy="316.5" r="4.15" fill="none" stroke="#0b0b0b" stroke-width="3.05"/>
<circle cx="1396.75" cy="333.5" r="4.15" fill="none" stroke="#0b0b0b" stroke-width="3.05"/>
<circle cx="1396.75" cy="301" r="4.15" fill="none" stroke="#0b0b0b" stroke-width="3.05"/>
<circle cx="1436.25" cy="158.75" r="4.15" fill="none" stroke="#0b0b0b" stroke-width="3.05"/>
<circle cx="1430" cy="273.5" r="4.15" fill="none" stroke="#0b0b0b" stroke-width="3.05"/>
<circle cx="1443" cy="280.25" r="4.15" fill="none" stroke="#0b0b0b" stroke-width="3.05"/>
<circle cx="1430" cy="299" r="4.15" fill="none" stroke="#0b0b0b" stroke-width="3.05"/>
<circle cx="1443" cy="302" r="4.15" fill="none" stroke="#0b0b0b" stroke-width="3.05"/>
<circle cx="1436.25" cy="305.25" r="4.15" fill="none" stroke="#0b0b0b" stroke-width="3.05"/>
<circle cx="1502.5" cy="225.25" r="4.15" fill="none" stroke="#0b0b0b" stroke-width="3.05"/>
<circle cx="1502.5" cy="275.25" r="4.15" fill="none" stroke="#0b0b0b" stroke-width="3.05"/>
<circle cx="1508.75" cy="288.25" r="4.15" fill="none" stroke="#0b0b0b" stroke-width="3.05"/>
<circle cx="1495" cy="292.75" r="4.15" fill="none" stroke="#0b0b0b" stroke-width="3.05"/>
<circle cx="1506.25" cy="293.25" r="4.15" fill="none" stroke="#0b0b0b" stroke-width="3.05"/>
<circle cx="1499.25" cy="296" r="4.15" fill="none" stroke="#0b0b0b" stroke-width="3.05"/>
<circle cx="1535" cy="288.5" r="4.15" fill="none" stroke="#0b0b0b" stroke-width="3.05"/>
<circle cx="1548.25" cy="287.75" r="4.15" fill="none" stroke="#0b0b0b" stroke-width="3.05"/>
<circle cx="1538" cy="296" r="4.15" fill="none" stroke="#0b0b0b" stroke-width="3.05"/>
<circle cx="1545" cy="294" r="4.15" fill="none" stroke="#0b0b0b" stroke-width="3.05"/>
<circle cx="1541.75" cy="300.25" r="4.15" fill="none" stroke="#0b0b0b" stroke-width="3.05"/>
<circle cx="1541.75" cy="327" r="4.15" fill="none" stroke="#0b0b0b" stroke-width="3.05"/>
<circle cx="1581.75" cy="253.25" r="4.15" fill="none" stroke="#0b0b0b" stroke-width="3.05"/>
<circle cx="1568.75" cy="271.5" r="4.15" fill="none" stroke="#0b0b0b" stroke-width="3.05"/>
<circle cx="1588.25" cy="271" r="4.15" fill="none" stroke="#0b0b0b" stroke-width="3.05"/>
<circle cx="1575" cy="279.75" r="4.15" fill="none" stroke="#0b0b0b" stroke-width="3.05"/>
<circle cx="1588.25" cy="285.25" r="4.15" fill="none" stroke="#0b0b0b" stroke-width="3.05"/>
<circle cx="1581.75" cy="299.5" r="4.15" fill="none" stroke="#0b0b0b" stroke-width="3.05"/>
<circle cx="1647.8" cy="275.1" r="4.15" fill="none" stroke="#0b0b0b" stroke-width="3.05"/>
<circle cx="1640.8" cy="288.4" r="4.15" fill="none" stroke="#0b0b0b" stroke-width="3.05"/>
<circle cx="1655" cy="286.5" r="4.15" fill="none" stroke="#0b0b0b" stroke-width="3.05"/>
<circle cx="1647.8" cy="295" r="4.15" fill="none" stroke="#0b0b0b" stroke-width="3.05"/>
<circle cx="1654.3" cy="304.8" r="4.15" fill="none" stroke="#0b0b0b" stroke-width="3.05"/>
<circle cx="1641.3" cy="312.5" r="4.15" fill="none" stroke="#0b0b0b" stroke-width="3.05"/>
<circle cx="1687.6" cy="298.1" r="4.15" fill="none" stroke="#0b0b0b" stroke-width="3.05"/>
<circle cx="1680.1" cy="304.2" r="4.15" fill="none" stroke="#0b0b0b" stroke-width="3.05"/>
<circle cx="1694.7" cy="305.9" r="4.15" fill="none" stroke="#0b0b0b" stroke-width="3.05"/>
<circle cx="1683.8" cy="307.3" r="4.15" fill="none" stroke="#0b0b0b" stroke-width="3.05"/>
<circle cx="1691.3" cy="308" r="4.15" fill="none" stroke="#0b0b0b" stroke-width="3.05"/>
<circle cx="1688.1" cy="314.6" r="4.15" fill="none" stroke="#0b0b0b" stroke-width="3.05"/>
<circle cx="1720.8" cy="316.6" r="4.15" fill="none" stroke="#0b0b0b" stroke-width="3.05"/>
<circle cx="1734.1" cy="318.3" r="4.15" fill="none" stroke="#0b0b0b" stroke-width="3.05"/>
<circle cx="1724.2" cy="321.4" r="4.15" fill="none" stroke="#0b0b0b" stroke-width="3.05"/>
<circle cx="1730.4" cy="321.7" r="4.15" fill="none" stroke="#0b0b0b" stroke-width="3.05"/>
<circle cx="1720.8" cy="337.7" r="4.15" fill="none" stroke="#0b0b0b" stroke-width="3.05"/>
<circle cx="1733.8" cy="336.5" r="4.15" fill="none" stroke="#0b0b0b" stroke-width="3.05"/>
<line x1="1438.6" y1="142.5" x2="1716.1" y2="142.5" stroke="#0b0b0b" stroke-width="3.2" stroke-linecap="round"/>
<text class="st" x="1588.85" y="136.6" font-size="18.3" font-weight="bold" text-anchor="middle" letter-spacing="3.3" fill="#131313" stroke="#131313" stroke-width="0.8">**</text>
<line x1="1582.6" y1="205.6" x2="1722" y2="205.6" stroke="#0b0b0b" stroke-width="3.2" stroke-linecap="round"/>
<text class="st" x="1656.85" y="201.4" font-size="18.3" font-weight="bold" text-anchor="middle" letter-spacing="3.3" fill="#131313" stroke="#131313" stroke-width="0.8">*</text>
<line x1="1654.1" y1="247.2" x2="1722" y2="247.2" stroke="#0b0b0b" stroke-width="3.2" stroke-linecap="round"/>
<text class="st" x="1692.55" y="242.6" font-size="18.3" font-weight="bold" text-anchor="middle" letter-spacing="3.3" fill="#131313" stroke="#131313" stroke-width="0.8">***</text>
<line x1="1691.6" y1="280.5" x2="1723.8" y2="280.5" stroke="#0b0b0b" stroke-width="3.2" stroke-linecap="round"/>
<text class="st" x="1710.35" y="277.6" font-size="18.3" font-weight="bold" text-anchor="middle" letter-spacing="3.3" fill="#131313" stroke="#131313" stroke-width="0.8">*</text>
<text transform="translate(1220.1 30.5) scale(1 1)" font-size="44" font-weight="bold" fill="#0b0b0b">c</text>
<text x="1332" y="53.5" font-size="25.7" font-weight="bold" text-anchor="start" fill="#0b0b0b">CD4<tspan font-size="16" dy="-8.5">+</tspan><tspan dy="8.5"> /CD8</tspan><tspan font-size="16" dy="-8.5">+</tspan></text>
<text transform="translate(1253.6 253.7) rotate(-90)" font-size="25.8" font-weight="bold" text-anchor="middle" letter-spacing="-0.25" fill="#0b0b0b">Ratio of liver CD4<tspan font-size="16" dy="-8.5">+</tspan><tspan dy="8.5">/CD8</tspan><tspan font-size="16" dy="-8.5">+</tspan><tspan dy="8.5"> T</tspan></text>
<text transform="translate(1284.5 251) rotate(-90)" font-size="25.8" font-weight="bold" text-anchor="middle" letter-spacing="0" fill="#0b0b0b">cells number</text>
</g>
<g id="panel-d">
<rect x="145.75" y="794.75" width="25" height="46.65" fill="#ffffff" stroke="#0b0b0b" stroke-width="2.5"/>
<line x1="158.25" y1="788.5" x2="158.25" y2="794.5" stroke="#0b0b0b" stroke-width="2.5" stroke-linecap="butt"/>
<line x1="151.65" y1="789.7" x2="164.85" y2="789.7" stroke="#0b0b0b" stroke-width="2.5" stroke-linecap="butt"/>
<rect x="185" y="796.75" width="25" height="44.65" fill="#ffffff" stroke="#0b0b0b" stroke-width="2.5"/>
<line x1="197.5" y1="792" x2="197.5" y2="796.5" stroke="#0b0b0b" stroke-width="2.5" stroke-linecap="butt"/>
<line x1="190.9" y1="793.2" x2="204.1" y2="793.2" stroke="#0b0b0b" stroke-width="2.5" stroke-linecap="butt"/>
<rect x="223.75" y="789.75" width="25" height="51.65" fill="#ffffff" stroke="#0b0b0b" stroke-width="2.5"/>
<line x1="236.25" y1="781.75" x2="236.25" y2="789.5" stroke="#0b0b0b" stroke-width="2.5" stroke-linecap="butt"/>
<line x1="229.65" y1="782.95" x2="242.85" y2="782.95" stroke="#0b0b0b" stroke-width="2.5" stroke-linecap="butt"/>
<rect x="289.4" y="807.25" width="25" height="34.15" fill="#a4a4a4" stroke="#0b0b0b" stroke-width="2.5"/>
<line x1="301.9" y1="802" x2="301.9" y2="807" stroke="#0b0b0b" stroke-width="2.5" stroke-linecap="butt"/>
<line x1="295.3" y1="803.2" x2="308.5" y2="803.2" stroke="#0b0b0b" stroke-width="2.5" stroke-linecap="butt"/>
<rect x="328.25" y="799.75" width="25" height="41.65" fill="#a4a4a4" stroke="#0b0b0b" stroke-width="2.5"/>
<line x1="340.75" y1="793.5" x2="340.75" y2="799.5" stroke="#0b0b0b" stroke-width="2.5" stroke-linecap="butt"/>
<line x1="334.15" y1="794.7" x2="347.35" y2="794.7" stroke="#0b0b0b" stroke-width="2.5" stroke-linecap="butt"/>
<rect x="367.5" y="787.25" width="25" height="54.15" fill="#a4a4a4" stroke="#0b0b0b" stroke-width="2.5"/>
<line x1="380" y1="778.5" x2="380" y2="787" stroke="#0b0b0b" stroke-width="2.5" stroke-linecap="butt"/>
<line x1="373.4" y1="779.7" x2="386.6" y2="779.7" stroke="#0b0b0b" stroke-width="2.5" stroke-linecap="butt"/>
<rect x="432.75" y="806.15" width="25" height="35.25" fill="#6c6c6c" stroke="#0b0b0b" stroke-width="2.5"/>
<line x1="445.25" y1="797" x2="445.25" y2="805.9" stroke="#0b0b0b" stroke-width="2.5" stroke-linecap="butt"/>
<line x1="438.65" y1="798.2" x2="451.85" y2="798.2" stroke="#0b0b0b" stroke-width="2.5" stroke-linecap="butt"/>
<rect x="472.25" y="808.25" width="25" height="33.15" fill="#6c6c6c" stroke="#0b0b0b" stroke-width="2.5"/>
<line x1="484.75" y1="799.7" x2="484.75" y2="808" stroke="#0b0b0b" stroke-width="2.5" stroke-linecap="butt"/>
<line x1="478.15" y1="800.9" x2="491.35" y2="800.9" stroke="#0b0b0b" stroke-width="2.5" stroke-linecap="butt"/>
<rect x="511.25" y="723.95" width="25" height="117.45" fill="#6c6c6c" stroke="#0b0b0b" stroke-width="2.5"/>
<line x1="523.75" y1="706.5" x2="523.75" y2="723.7" stroke="#0b0b0b" stroke-width="2.5" stroke-linecap="butt"/>
<line x1="517.15" y1="707.7" x2="530.35" y2="707.7" stroke="#0b0b0b" stroke-width="2.5" stroke-linecap="butt"/>
<line x1="125.7" y1="610.2" x2="125.7" y2="842.8" stroke="#0b0b0b" stroke-width="2.8" stroke-linecap="butt"/>
<line x1="124.3" y1="841.4" x2="556.3" y2="841.4" stroke="#0b0b0b" stroke-width="2.9" stroke-linecap="butt"/>
<line x1="120.2" y1="841.4" x2="125.7" y2="841.4" stroke="#0b0b0b" stroke-width="2.6" stroke-linecap="butt"/>
<text x="105.9" y="847.5" font-size="22.6" font-weight="bold" text-anchor="end" fill="#0b0b0b">0</text>
<line x1="120.2" y1="795.5" x2="125.7" y2="795.5" stroke="#0b0b0b" stroke-width="2.6" stroke-linecap="butt"/>
<text x="114.2" y="801.6" font-size="22.6" font-weight="bold" text-anchor="end" fill="#0b0b0b">2.0<tspan font-size="17" font-weight="normal" fill="#3a3a3a" dx="0.4">&#215;</tspan><tspan dx="0.4">10</tspan><tspan font-size="12.5" dy="-8.4" dx="0.3">5</tspan></text>
<line x1="120.2" y1="749.5" x2="125.7" y2="749.5" stroke="#0b0b0b" stroke-width="2.6" stroke-linecap="butt"/>
<text x="114.2" y="755.6" font-size="22.6" font-weight="bold" text-anchor="end" fill="#0b0b0b">4.0<tspan font-size="17" font-weight="normal" fill="#3a3a3a" dx="0.4">&#215;</tspan><tspan dx="0.4">10</tspan><tspan font-size="12.5" dy="-8.4" dx="0.3">5</tspan></text>
<line x1="120.2" y1="703.5" x2="125.7" y2="703.5" stroke="#0b0b0b" stroke-width="2.6" stroke-linecap="butt"/>
<text x="114.2" y="709.6" font-size="22.6" font-weight="bold" text-anchor="end" fill="#0b0b0b">6.0<tspan font-size="17" font-weight="normal" fill="#3a3a3a" dx="0.4">&#215;</tspan><tspan dx="0.4">10</tspan><tspan font-size="12.5" dy="-8.4" dx="0.3">5</tspan></text>
<line x1="120.2" y1="657.5" x2="125.7" y2="657.5" stroke="#0b0b0b" stroke-width="2.6" stroke-linecap="butt"/>
<text x="114.2" y="663.6" font-size="22.6" font-weight="bold" text-anchor="end" fill="#0b0b0b">8.0<tspan font-size="17" font-weight="normal" fill="#3a3a3a" dx="0.4">&#215;</tspan><tspan dx="0.4">10</tspan><tspan font-size="12.5" dy="-8.4" dx="0.3">5</tspan></text>
<line x1="120.2" y1="611.5" x2="125.7" y2="611.5" stroke="#0b0b0b" stroke-width="2.6" stroke-linecap="butt"/>
<text x="114.2" y="617.6" font-size="22.6" font-weight="bold" text-anchor="end" fill="#0b0b0b">1.0<tspan font-size="17" font-weight="normal" fill="#3a3a3a" dx="0.4">&#215;</tspan><tspan dx="0.4">10</tspan><tspan font-size="12.5" dy="-8.4" dx="0.3">6</tspan></text>
<line x1="158.25" y1="841.4" x2="158.25" y2="846.7" stroke="#0b0b0b" stroke-width="2.4" stroke-linecap="butt"/>
<text transform="translate(160.15 869.7) scale(1 1)" font-size="17" font-weight="bold" text-anchor="middle" letter-spacing="1.7" fill="#1c1c1c">LD</text>
<line x1="197.5" y1="841.4" x2="197.5" y2="846.7" stroke="#0b0b0b" stroke-width="2.4" stroke-linecap="butt"/>
<text transform="translate(201.95 869.7) scale(1 1)" font-size="17" font-weight="bold" text-anchor="middle" letter-spacing="1.7" fill="#1c1c1c">MD</text>
<line x1="236.25" y1="841.4" x2="236.25" y2="846.7" stroke="#0b0b0b" stroke-width="2.4" stroke-linecap="butt"/>
<text transform="translate(238.65 869.7) scale(1 1)" font-size="17" font-weight="bold" text-anchor="middle" letter-spacing="1.7" fill="#1c1c1c">HD</text>
<line x1="301.9" y1="841.4" x2="301.9" y2="846.7" stroke="#0b0b0b" stroke-width="2.4" stroke-linecap="butt"/>
<text transform="translate(302.25 869.7) scale(1 1)" font-size="17" font-weight="bold" text-anchor="middle" letter-spacing="1.7" fill="#1c1c1c">LD</text>
<line x1="340.75" y1="841.4" x2="340.75" y2="846.7" stroke="#0b0b0b" stroke-width="2.4" stroke-linecap="butt"/>
<text transform="translate(344.25 869.7) scale(1 1)" font-size="17" font-weight="bold" text-anchor="middle" letter-spacing="1.7" fill="#1c1c1c">MD</text>
<line x1="380" y1="841.4" x2="380" y2="846.7" stroke="#0b0b0b" stroke-width="2.4" stroke-linecap="butt"/>
<text transform="translate(381.15 869.7) scale(1 1)" font-size="17" font-weight="bold" text-anchor="middle" letter-spacing="1.7" fill="#1c1c1c">HD</text>
<line x1="445.25" y1="841.4" x2="445.25" y2="846.7" stroke="#0b0b0b" stroke-width="2.4" stroke-linecap="butt"/>
<text transform="translate(446.25 869.7) scale(1 1)" font-size="17" font-weight="bold" text-anchor="middle" letter-spacing="1.7" fill="#1c1c1c">LD</text>
<line x1="484.75" y1="841.4" x2="484.75" y2="846.7" stroke="#0b0b0b" stroke-width="2.4" stroke-linecap="butt"/>
<text transform="translate(487.95 869.7) scale(1 1)" font-size="17" font-weight="bold" text-anchor="middle" letter-spacing="1.7" fill="#1c1c1c">MD</text>
<line x1="523.75" y1="841.4" x2="523.75" y2="846.7" stroke="#0b0b0b" stroke-width="2.4" stroke-linecap="butt"/>
<text transform="translate(524.95 869.7) scale(1 1)" font-size="17" font-weight="bold" text-anchor="middle" letter-spacing="1.7" fill="#1c1c1c">HD</text>
<circle cx="158.75" cy="777.25" r="4.15" fill="none" stroke="#0b0b0b" stroke-width="3.05"/>
<circle cx="165" cy="792.25" r="4.15" fill="none" stroke="#0b0b0b" stroke-width="3.05"/>
<circle cx="151.25" cy="798.5" r="4.15" fill="none" stroke="#0b0b0b" stroke-width="3.05"/>
<circle cx="161.25" cy="798.5" r="4.15" fill="none" stroke="#0b0b0b" stroke-width="3.05"/>
<circle cx="155" cy="804.75" r="4.15" fill="none" stroke="#0b0b0b" stroke-width="3.05"/>
<circle cx="156.5" cy="794" r="4.15" fill="none" stroke="#0b0b0b" stroke-width="3.05"/>
<circle cx="191.25" cy="787.25" r="4.15" fill="none" stroke="#0b0b0b" stroke-width="3.05"/>
<circle cx="204.25" cy="786" r="4.15" fill="none" stroke="#0b0b0b" stroke-width="3.05"/>
<circle cx="197.5" cy="792.25" r="4.15" fill="none" stroke="#0b0b0b" stroke-width="3.05"/>
<circle cx="191.25" cy="800.5" r="4.15" fill="none" stroke="#0b0b0b" stroke-width="3.05"/>
<circle cx="204.25" cy="800.5" r="4.15" fill="none" stroke="#0b0b0b" stroke-width="3.05"/>
<circle cx="197.5" cy="809" r="4.15" fill="none" stroke="#0b0b0b" stroke-width="3.05"/>
<circle cx="230" cy="764.25" r="4.15" fill="none" stroke="#0b0b0b" stroke-width="3.05"/>
<circle cx="243" cy="771" r="4.15" fill="none" stroke="#0b0b0b" stroke-width="3.05"/>
<circle cx="243" cy="789.75" r="4.15" fill="none" stroke="#0b0b0b" stroke-width="3.05"/>
<circle cx="228" cy="802.25" r="4.15" fill="none" stroke="#0b0b0b" stroke-width="3.05"/>
<circle cx="234.25" cy="803.5" r="4.15" fill="none" stroke="#0b0b0b" stroke-width="3.05"/>
<circle cx="240.75" cy="803.5" r="4.15" fill="none" stroke="#0b0b0b" stroke-width="3.05"/>
<circle cx="295.5" cy="798" r="4.15" fill="none" stroke="#0b0b0b" stroke-width="3.05"/>
<circle cx="308.75" cy="798.5" r="4.15" fill="none" stroke="#0b0b0b" stroke-width="3.05"/>
<circle cx="302" cy="803.5" r="4.15" fill="none" stroke="#0b0b0b" stroke-width="3.05"/>
<circle cx="295.5" cy="820.5" r="4.15" fill="none" stroke="#0b0b0b" stroke-width="3.05"/>
<circle cx="308.75" cy="819" r="4.15" fill="none" stroke="#0b0b0b" stroke-width="3.05"/>
<circle cx="302" cy="799.5" r="4.15" fill="none" stroke="#0b0b0b" stroke-width="3.05"/>
<circle cx="333.75" cy="784.75" r="4.15" fill="none" stroke="#0b0b0b" stroke-width="3.05"/>
<circle cx="348.25" cy="793" r="4.15" fill="none" stroke="#0b0b0b" stroke-width="3.05"/>
<circle cx="338.75" cy="796" r="4.15" fill="none" stroke="#0b0b0b" stroke-width="3.05"/>
<circle cx="348.25" cy="807.25" r="4.15" fill="none" stroke="#0b0b0b" stroke-width="3.05"/>
<circle cx="334.5" cy="813.5" r="4.15" fill="none" stroke="#0b0b0b" stroke-width="3.05"/>
<circle cx="343.75" cy="801" r="4.15" fill="none" stroke="#0b0b0b" stroke-width="3.05"/>
<circle cx="380" cy="759.75" r="4.15" fill="none" stroke="#0b0b0b" stroke-width="3.05"/>
<circle cx="366.25" cy="779" r="4.15" fill="none" stroke="#0b0b0b" stroke-width="3.05"/>
<circle cx="386.25" cy="778.5" r="4.15" fill="none" stroke="#0b0b0b" stroke-width="3.05"/>
<circle cx="373.25" cy="787.25" r="4.15" fill="none" stroke="#0b0b0b" stroke-width="3.05"/>
<circle cx="386.25" cy="799.75" r="4.15" fill="none" stroke="#0b0b0b" stroke-width="3.05"/>
<circle cx="380" cy="814" r="4.15" fill="none" stroke="#0b0b0b" stroke-width="3.05"/>
<circle cx="438.75" cy="791" r="4.15" fill="none" stroke="#0b0b0b" stroke-width="3.05"/>
<circle cx="452" cy="787.75" r="4.15" fill="none" stroke="#0b0b0b" stroke-width="3.05"/>
<circle cx="445" cy="799" r="4.15" fill="none" stroke="#0b0b0b" stroke-width="3.05"/>
<circle cx="438.75" cy="811" r="4.15" fill="none" stroke="#0b0b0b" stroke-width="3.05"/>
<circle cx="445" cy="821" r="4.15" fill="none" stroke="#0b0b0b" stroke-width="3.05"/>
<circle cx="452" cy="821" r="4.15" fill="none" stroke="#0b0b0b" stroke-width="3.05"/>
<circle cx="484.6" cy="782.7" r="4.15" fill="none" stroke="#0b0b0b" stroke-width="3.05"/>
<circle cx="484.6" cy="801.7" r="4.15" fill="none" stroke="#0b0b0b" stroke-width="3.05"/>
<circle cx="477.3" cy="811" r="4.15" fill="none" stroke="#0b0b0b" stroke-width="3.05"/>
<circle cx="491.5" cy="811" r="4.15" fill="none" stroke="#0b0b0b" stroke-width="3.05"/>
<circle cx="481.3" cy="820" r="4.15" fill="none" stroke="#0b0b0b" stroke-width="3.05"/>
<circle cx="487.4" cy="818" r="4.15" fill="none" stroke="#0b0b0b" stroke-width="3.05"/>
<circle cx="523.9" cy="653.8" r="4.15" fill="none" stroke="#0b0b0b" stroke-width="3.05"/>
<circle cx="523.9" cy="706.5" r="4.15" fill="none" stroke="#0b0b0b" stroke-width="3.05"/>
<circle cx="517.8" cy="730.8" r="4.15" fill="none" stroke="#0b0b0b" stroke-width="3.05"/>
<circle cx="530" cy="730.8" r="4.15" fill="none" stroke="#0b0b0b" stroke-width="3.05"/>
<circle cx="523.9" cy="741" r="4.15" fill="none" stroke="#0b0b0b" stroke-width="3.05"/>
<circle cx="523.9" cy="776.2" r="4.15" fill="none" stroke="#0b0b0b" stroke-width="3.05"/>
<line x1="247.35" y1="562.5" x2="522.3" y2="562.5" stroke="#0b0b0b" stroke-width="3.2" stroke-linecap="round"/>
<text class="st" x="387.6" y="557.35" font-size="18.3" font-weight="bold" text-anchor="middle" letter-spacing="3.3" fill="#131313" stroke="#131313" stroke-width="0.8">***</text>
<line x1="388.5" y1="585.5" x2="520.4" y2="585.5" stroke="#0b0b0b" stroke-width="3.2" stroke-linecap="round"/>
<text class="st" x="457.65" y="584.6" font-size="18.3" font-weight="bold" text-anchor="middle" letter-spacing="3.3" fill="#131313" stroke="#131313" stroke-width="0.8">***</text>
<line x1="445" y1="609.9" x2="521.1" y2="609.9" stroke="#0b0b0b" stroke-width="3.2" stroke-linecap="round"/>
<text class="st" x="483.15" y="610.9" font-size="18.3" font-weight="bold" text-anchor="middle" letter-spacing="3.3" fill="#131313" stroke="#131313" stroke-width="0.8">***</text>
<line x1="482.1" y1="634.7" x2="521.1" y2="634.7" stroke="#0b0b0b" stroke-width="3.2" stroke-linecap="round"/>
<text class="st" x="502.65" y="635.2" font-size="18.3" font-weight="bold" text-anchor="middle" letter-spacing="3.3" fill="#131313" stroke="#131313" stroke-width="0.8">***</text>
<text transform="translate(7.5 501) scale(1 1)" font-size="44" font-weight="bold" fill="#0b0b0b">d</text>
<text x="140.7" y="517.5" font-size="25.7" font-weight="bold" text-anchor="start" fill="#0b0b0b">NK cells</text>
<text transform="translate(32 720.3) rotate(-90)" font-size="25.4" font-weight="bold" text-anchor="middle" letter-spacing="0" fill="#0b0b0b">Liver NK cells number</text>
</g>
<g id="panel-e">
<rect x="755.5" y="723" width="25" height="113.3" fill="#ffffff" stroke="#0b0b0b" stroke-width="2.5"/>
<line x1="768" y1="717.25" x2="768" y2="722.75" stroke="#0b0b0b" stroke-width="2.5" stroke-linecap="butt"/>
<line x1="761.4" y1="718.45" x2="774.6" y2="718.45" stroke="#0b0b0b" stroke-width="2.5" stroke-linecap="butt"/>
<rect x="794.25" y="722.75" width="25" height="113.55" fill="#ffffff" stroke="#0b0b0b" stroke-width="2.5"/>
<line x1="806.75" y1="709.75" x2="806.75" y2="722.5" stroke="#0b0b0b" stroke-width="2.5" stroke-linecap="butt"/>
<line x1="800.15" y1="710.95" x2="813.35" y2="710.95" stroke="#0b0b0b" stroke-width="2.5" stroke-linecap="butt"/>
<rect x="833" y="729.25" width="25" height="107.05" fill="#ffffff" stroke="#0b0b0b" stroke-width="2.5"/>
<line x1="845.5" y1="708" x2="845.5" y2="729" stroke="#0b0b0b" stroke-width="2.5" stroke-linecap="butt"/>
<line x1="838.9" y1="709.2" x2="852.1" y2="709.2" stroke="#0b0b0b" stroke-width="2.5" stroke-linecap="butt"/>
<rect x="897.5" y="735.5" width="25" height="100.8" fill="#a4a4a4" stroke="#0b0b0b" stroke-width="2.5"/>
<line x1="910" y1="709.75" x2="910" y2="735.25" stroke="#0b0b0b" stroke-width="2.5" stroke-linecap="butt"/>
<line x1="903.4" y1="710.95" x2="916.6" y2="710.95" stroke="#0b0b0b" stroke-width="2.5" stroke-linecap="butt"/>
<rect x="936.25" y="759" width="25" height="77.3" fill="#a4a4a4" stroke="#0b0b0b" stroke-width="2.5"/>
<line x1="948.75" y1="743.5" x2="948.75" y2="758.75" stroke="#0b0b0b" stroke-width="2.5" stroke-linecap="butt"/>
<line x1="942.15" y1="744.7" x2="955.35" y2="744.7" stroke="#0b0b0b" stroke-width="2.5" stroke-linecap="butt"/>
<rect x="975" y="746" width="25" height="90.3" fill="#a4a4a4" stroke="#0b0b0b" stroke-width="2.5"/>
<line x1="987.5" y1="730.5" x2="987.5" y2="745.75" stroke="#0b0b0b" stroke-width="2.5" stroke-linecap="butt"/>
<line x1="980.9" y1="731.7" x2="994.1" y2="731.7" stroke="#0b0b0b" stroke-width="2.5" stroke-linecap="butt"/>
<rect x="1040" y="744.75" width="25" height="91.55" fill="#6c6c6c" stroke="#0b0b0b" stroke-width="2.5"/>
<line x1="1052.5" y1="722.7" x2="1052.5" y2="744.5" stroke="#0b0b0b" stroke-width="2.5" stroke-linecap="butt"/>
<line x1="1045.9" y1="723.9" x2="1059.1" y2="723.9" stroke="#0b0b0b" stroke-width="2.5" stroke-linecap="butt"/>
<rect x="1078.5" y="730.25" width="25" height="106.05" fill="#6c6c6c" stroke="#0b0b0b" stroke-width="2.5"/>
<line x1="1091" y1="710.4" x2="1091" y2="730" stroke="#0b0b0b" stroke-width="2.5" stroke-linecap="butt"/>
<line x1="1084.4" y1="711.6" x2="1097.6" y2="711.6" stroke="#0b0b0b" stroke-width="2.5" stroke-linecap="butt"/>
<rect x="1117" y="737.55" width="25" height="98.75" fill="#6c6c6c" stroke="#0b0b0b" stroke-width="2.5"/>
<line x1="1129.5" y1="725.5" x2="1129.5" y2="737.3" stroke="#0b0b0b" stroke-width="2.5" stroke-linecap="butt"/>
<line x1="1122.9" y1="726.7" x2="1136.1" y2="726.7" stroke="#0b0b0b" stroke-width="2.5" stroke-linecap="butt"/>
<line x1="735.3" y1="586.3" x2="735.3" y2="837.7" stroke="#0b0b0b" stroke-width="2.8" stroke-linecap="butt"/>
<line x1="733.9" y1="836.3" x2="1163.7" y2="836.3" stroke="#0b0b0b" stroke-width="2.9" stroke-linecap="butt"/>
<line x1="729.8" y1="836.3" x2="735.3" y2="836.3" stroke="#0b0b0b" stroke-width="2.6" stroke-linecap="butt"/>
<text x="715.9" y="842.4" font-size="22.4" font-weight="bold" text-anchor="end" fill="#0b0b0b">0</text>
<line x1="729.8" y1="786.6" x2="735.3" y2="786.6" stroke="#0b0b0b" stroke-width="2.6" stroke-linecap="butt"/>
<text x="724.2" y="792.7" font-size="22.4" font-weight="bold" text-anchor="end" fill="#0b0b0b">2.0<tspan font-size="17" font-weight="normal" fill="#3a3a3a" dx="0.4">&#215;</tspan><tspan dx="0.4">10</tspan><tspan font-size="12.5" dy="-8.4" dx="0.3">5</tspan></text>
<line x1="729.8" y1="736.9" x2="735.3" y2="736.9" stroke="#0b0b0b" stroke-width="2.6" stroke-linecap="butt"/>
<text x="724.2" y="743" font-size="22.4" font-weight="bold" text-anchor="end" fill="#0b0b0b">4.0<tspan font-size="17" font-weight="normal" fill="#3a3a3a" dx="0.4">&#215;</tspan><tspan dx="0.4">10</tspan><tspan font-size="12.5" dy="-8.4" dx="0.3">5</tspan></text>
<line x1="729.8" y1="687.2" x2="735.3" y2="687.2" stroke="#0b0b0b" stroke-width="2.6" stroke-linecap="butt"/>
<text x="724.2" y="693.3" font-size="22.4" font-weight="bold" text-anchor="end" fill="#0b0b0b">6.0<tspan font-size="17" font-weight="normal" fill="#3a3a3a" dx="0.4">&#215;</tspan><tspan dx="0.4">10</tspan><tspan font-size="12.5" dy="-8.4" dx="0.3">5</tspan></text>
<line x1="729.8" y1="637.4" x2="735.3" y2="637.4" stroke="#0b0b0b" stroke-width="2.6" stroke-linecap="butt"/>
<text x="724.2" y="643.5" font-size="22.4" font-weight="bold" text-anchor="end" fill="#0b0b0b">8.0<tspan font-size="17" font-weight="normal" fill="#3a3a3a" dx="0.4">&#215;</tspan><tspan dx="0.4">10</tspan><tspan font-size="12.5" dy="-8.4" dx="0.3">5</tspan></text>
<line x1="729.8" y1="587.6" x2="735.3" y2="587.6" stroke="#0b0b0b" stroke-width="2.6" stroke-linecap="butt"/>
<text x="724.2" y="593.7" font-size="22.4" font-weight="bold" text-anchor="end" fill="#0b0b0b">1.0<tspan font-size="17" font-weight="normal" fill="#3a3a3a" dx="0.4">&#215;</tspan><tspan dx="0.4">10</tspan><tspan font-size="12.5" dy="-8.4" dx="0.3">6</tspan></text>
<line x1="768" y1="836.3" x2="768" y2="841.6" stroke="#0b0b0b" stroke-width="2.4" stroke-linecap="butt"/>
<text transform="translate(768.55 868.1) scale(1 1)" font-size="17" font-weight="bold" text-anchor="middle" letter-spacing="1.7" fill="#1c1c1c">LD</text>
<line x1="806.75" y1="836.3" x2="806.75" y2="841.6" stroke="#0b0b0b" stroke-width="2.4" stroke-linecap="butt"/>
<text transform="translate(810.45 868.1) scale(1 1)" font-size="17" font-weight="bold" text-anchor="middle" letter-spacing="1.7" fill="#1c1c1c">MD</text>
<line x1="845.5" y1="836.3" x2="845.5" y2="841.6" stroke="#0b0b0b" stroke-width="2.4" stroke-linecap="butt"/>
<text transform="translate(846.95 868.1) scale(1 1)" font-size="17" font-weight="bold" text-anchor="middle" letter-spacing="1.7" fill="#1c1c1c">HD</text>
<line x1="910" y1="836.3" x2="910" y2="841.6" stroke="#0b0b0b" stroke-width="2.4" stroke-linecap="butt"/>
<text transform="translate(909.45 868.1) scale(1 1)" font-size="17" font-weight="bold" text-anchor="middle" letter-spacing="1.7" fill="#1c1c1c">LD</text>
<line x1="948.75" y1="836.3" x2="948.75" y2="841.6" stroke="#0b0b0b" stroke-width="2.4" stroke-linecap="butt"/>
<text transform="translate(951.35 868.1) scale(1 1)" font-size="17" font-weight="bold" text-anchor="middle" letter-spacing="1.7" fill="#1c1c1c">MD</text>
<line x1="987.5" y1="836.3" x2="987.5" y2="841.6" stroke="#0b0b0b" stroke-width="2.4" stroke-linecap="butt"/>
<text transform="translate(988.05 868.1) scale(1 1)" font-size="17" font-weight="bold" text-anchor="middle" letter-spacing="1.7" fill="#1c1c1c">HD</text>
<line x1="1052.5" y1="836.3" x2="1052.5" y2="841.6" stroke="#0b0b0b" stroke-width="2.4" stroke-linecap="butt"/>
<text transform="translate(1053.45 868.1) scale(1 1)" font-size="17" font-weight="bold" text-anchor="middle" letter-spacing="1.7" fill="#1c1c1c">LD</text>
<line x1="1091" y1="836.3" x2="1091" y2="841.6" stroke="#0b0b0b" stroke-width="2.4" stroke-linecap="butt"/>
<text transform="translate(1095.45 868.1) scale(1 1)" font-size="17" font-weight="bold" text-anchor="middle" letter-spacing="1.7" fill="#1c1c1c">MD</text>
<line x1="1129.5" y1="836.3" x2="1129.5" y2="841.6" stroke="#0b0b0b" stroke-width="2.4" stroke-linecap="butt"/>
<text transform="translate(1132.15 868.1) scale(1 1)" font-size="17" font-weight="bold" text-anchor="middle" letter-spacing="1.7" fill="#1c1c1c">HD</text>
<circle cx="774.25" cy="705.25" r="4.15" fill="none" stroke="#0b0b0b" stroke-width="3.05"/>
<circle cx="761.75" cy="713.5" r="4.15" fill="none" stroke="#0b0b0b" stroke-width="3.05"/>
<circle cx="768" cy="719" r="4.15" fill="none" stroke="#0b0b0b" stroke-width="3.05"/>
<circle cx="774.25" cy="735.5" r="4.15" fill="none" stroke="#0b0b0b" stroke-width="3.05"/>
<circle cx="761.75" cy="742.25" r="4.15" fill="none" stroke="#0b0b0b" stroke-width="3.05"/>
<circle cx="800" cy="699" r="4.15" fill="none" stroke="#0b0b0b" stroke-width="3.05"/>
<circle cx="813" cy="696" r="4.15" fill="none" stroke="#0b0b0b" stroke-width="3.05"/>
<circle cx="806.25" cy="705.25" r="4.15" fill="none" stroke="#0b0b0b" stroke-width="3.05"/>
<circle cx="806.25" cy="721" r="4.15" fill="none" stroke="#0b0b0b" stroke-width="3.05"/>
<circle cx="806.25" cy="741.75" r="4.15" fill="none" stroke="#0b0b0b" stroke-width="3.05"/>
<circle cx="806.25" cy="771" r="4.15" fill="none" stroke="#0b0b0b" stroke-width="3.05"/>
<circle cx="838.75" cy="671" r="4.15" fill="none" stroke="#0b0b0b" stroke-width="3.05"/>
<circle cx="851.75" cy="663" r="4.15" fill="none" stroke="#0b0b0b" stroke-width="3.05"/>
<circle cx="845" cy="734.25" r="4.15" fill="none" stroke="#0b0b0b" stroke-width="3.05"/>
<circle cx="838.75" cy="764.25" r="4.15" fill="none" stroke="#0b0b0b" stroke-width="3.05"/>
<circle cx="845" cy="771.5" r="4.15" fill="none" stroke="#0b0b0b" stroke-width="3.05"/>
<circle cx="851.75" cy="770.25" r="4.15" fill="none" stroke="#0b0b0b" stroke-width="3.05"/>
<circle cx="910" cy="649.25" r="4.15" fill="none" stroke="#0b0b0b" stroke-width="3.05"/>
<circle cx="910" cy="686.75" r="4.15" fill="none" stroke="#0b0b0b" stroke-width="3.05"/>
<circle cx="910" cy="723" r="4.15" fill="none" stroke="#0b0b0b" stroke-width="3.05"/>
<circle cx="903.25" cy="764.75" r="4.15" fill="none" stroke="#0b0b0b" stroke-width="3.05"/>
<circle cx="916.75" cy="766.75" r="4.15" fill="none" stroke="#0b0b0b" stroke-width="3.05"/>
<circle cx="910" cy="816" r="4.15" fill="none" stroke="#0b0b0b" stroke-width="3.05"/>
<circle cx="948.25" cy="706.75" r="4.15" fill="none" stroke="#0b0b0b" stroke-width="3.05"/>
<circle cx="948.25" cy="723" r="4.15" fill="none" stroke="#0b0b0b" stroke-width="3.05"/>
<circle cx="942" cy="771" r="4.15" fill="none" stroke="#0b0b0b" stroke-width="3.05"/>
<circle cx="955" cy="771" r="4.15" fill="none" stroke="#0b0b0b" stroke-width="3.05"/>
<circle cx="955" cy="788.5" r="4.15" fill="none" stroke="#0b0b0b" stroke-width="3.05"/>
<circle cx="942" cy="791.75" r="4.15" fill="none" stroke="#0b0b0b" stroke-width="3.05"/>
<circle cx="987" cy="691.5" r="4.15" fill="none" stroke="#0b0b0b" stroke-width="3.05"/>
<circle cx="987" cy="718" r="4.15" fill="none" stroke="#0b0b0b" stroke-width="3.05"/>
<circle cx="987" cy="742.25" r="4.15" fill="none" stroke="#0b0b0b" stroke-width="3.05"/>
<circle cx="980.5" cy="759.25" r="4.15" fill="none" stroke="#0b0b0b" stroke-width="3.05"/>
<circle cx="993.75" cy="770.5" r="4.15" fill="none" stroke="#0b0b0b" stroke-width="3.05"/>
<circle cx="987" cy="791.75" r="4.15" fill="none" stroke="#0b0b0b" stroke-width="3.05"/>
<circle cx="1052" cy="658.5" r="4.15" fill="none" stroke="#0b0b0b" stroke-width="3.05"/>
<circle cx="1052" cy="700" r="4.15" fill="none" stroke="#0b0b0b" stroke-width="3.05"/>
<circle cx="1045.6" cy="768.3" r="4.15" fill="none" stroke="#0b0b0b" stroke-width="3.05"/>
<circle cx="1065.2" cy="772.6" r="4.15" fill="none" stroke="#0b0b0b" stroke-width="3.05"/>
<circle cx="1058.3" cy="778" r="4.15" fill="none" stroke="#0b0b0b" stroke-width="3.05"/>
<circle cx="1045.6" cy="788.5" r="4.15" fill="none" stroke="#0b0b0b" stroke-width="3.05"/>
<circle cx="1084.6" cy="675" r="4.15" fill="none" stroke="#0b0b0b" stroke-width="3.05"/>
<circle cx="1097" cy="678.7" r="4.15" fill="none" stroke="#0b0b0b" stroke-width="3.05"/>
<circle cx="1097" cy="725.5" r="4.15" fill="none" stroke="#0b0b0b" stroke-width="3.05"/>
<circle cx="1084.6" cy="738" r="4.15" fill="none" stroke="#0b0b0b" stroke-width="3.05"/>
<circle cx="1091" cy="765.8" r="4.15" fill="none" stroke="#0b0b0b" stroke-width="3.05"/>
<circle cx="1091" cy="797.5" r="4.15" fill="none" stroke="#0b0b0b" stroke-width="3.05"/>
<circle cx="1129.5" cy="682.3" r="4.15" fill="none" stroke="#0b0b0b" stroke-width="3.05"/>
<circle cx="1129.5" cy="724.8" r="4.15" fill="none" stroke="#0b0b0b" stroke-width="3.05"/>
<circle cx="1136" cy="743.5" r="4.15" fill="none" stroke="#0b0b0b" stroke-width="3.05"/>
<circle cx="1123.4" cy="751.8" r="4.15" fill="none" stroke="#0b0b0b" stroke-width="3.05"/>
<circle cx="1129.5" cy="755.4" r="4.15" fill="none" stroke="#0b0b0b" stroke-width="3.05"/>
<circle cx="1129.5" cy="768.7" r="4.15" fill="none" stroke="#0b0b0b" stroke-width="3.05"/>
<text transform="translate(611.1 496.2) scale(1 1)" font-size="44" font-weight="bold" fill="#0b0b0b">e</text>
<text x="753" y="513.75" font-size="25.7" font-weight="bold" text-anchor="start" fill="#0b0b0b">NKT cells</text>
<text transform="translate(637.5 707) rotate(-90)" font-size="25.6" font-weight="bold" text-anchor="middle" letter-spacing="0" fill="#0b0b0b">Liver NKT cells number</text>
</g>
<g id="panel-f">
<rect x="1377.6" y="764" width="25.6" height="70.1" fill="#ffffff" stroke="#0b0b0b" stroke-width="2.5"/>
<line x1="1390.4" y1="752.25" x2="1390.4" y2="763.75" stroke="#0b0b0b" stroke-width="2.5" stroke-linecap="butt"/>
<line x1="1383.8" y1="753.45" x2="1397" y2="753.45" stroke="#0b0b0b" stroke-width="2.5" stroke-linecap="butt"/>
<rect x="1416.95" y="778.5" width="25.6" height="55.6" fill="#ffffff" stroke="#0b0b0b" stroke-width="2.5"/>
<line x1="1429.75" y1="769.75" x2="1429.75" y2="778.25" stroke="#0b0b0b" stroke-width="2.5" stroke-linecap="butt"/>
<line x1="1423.15" y1="770.95" x2="1436.35" y2="770.95" stroke="#0b0b0b" stroke-width="2.5" stroke-linecap="butt"/>
<rect x="1456.2" y="748.5" width="25.6" height="85.6" fill="#ffffff" stroke="#0b0b0b" stroke-width="2.5"/>
<line x1="1469" y1="741" x2="1469" y2="748.25" stroke="#0b0b0b" stroke-width="2.5" stroke-linecap="butt"/>
<line x1="1462.4" y1="742.2" x2="1475.6" y2="742.2" stroke="#0b0b0b" stroke-width="2.5" stroke-linecap="butt"/>
<rect x="1522.2" y="804.75" width="25.6" height="29.35" fill="#a4a4a4" stroke="#0b0b0b" stroke-width="2.5"/>
<line x1="1535" y1="793" x2="1535" y2="804.5" stroke="#0b0b0b" stroke-width="2.5" stroke-linecap="butt"/>
<line x1="1528.4" y1="794.2" x2="1541.6" y2="794.2" stroke="#0b0b0b" stroke-width="2.5" stroke-linecap="butt"/>
<rect x="1561.2" y="738.5" width="25.6" height="95.6" fill="#a4a4a4" stroke="#0b0b0b" stroke-width="2.5"/>
<line x1="1574" y1="727.25" x2="1574" y2="738.25" stroke="#0b0b0b" stroke-width="2.5" stroke-linecap="butt"/>
<line x1="1567.4" y1="728.45" x2="1580.6" y2="728.45" stroke="#0b0b0b" stroke-width="2.5" stroke-linecap="butt"/>
<rect x="1600.6" y="711.75" width="25.6" height="122.35" fill="#a4a4a4" stroke="#0b0b0b" stroke-width="2.5"/>
<line x1="1613.4" y1="692.6" x2="1613.4" y2="711.5" stroke="#0b0b0b" stroke-width="2.5" stroke-linecap="butt"/>
<line x1="1606.8" y1="693.8" x2="1620" y2="693.8" stroke="#0b0b0b" stroke-width="2.5" stroke-linecap="butt"/>
<rect x="1666.7" y="761.05" width="25.6" height="73.05" fill="#6c6c6c" stroke="#0b0b0b" stroke-width="2.5"/>
<line x1="1679.5" y1="747.2" x2="1679.5" y2="760.8" stroke="#0b0b0b" stroke-width="2.5" stroke-linecap="butt"/>
<line x1="1672.9" y1="748.4" x2="1686.1" y2="748.4" stroke="#0b0b0b" stroke-width="2.5" stroke-linecap="butt"/>
<rect x="1705.95" y="787.25" width="25.6" height="46.85" fill="#6c6c6c" stroke="#0b0b0b" stroke-width="2.5"/>
<line x1="1718.75" y1="783" x2="1718.75" y2="787" stroke="#0b0b0b" stroke-width="2.5" stroke-linecap="butt"/>
<line x1="1712.15" y1="784.2" x2="1725.35" y2="784.2" stroke="#0b0b0b" stroke-width="2.5" stroke-linecap="butt"/>
<rect x="1745.4" y="735.85" width="25.6" height="98.25" fill="#6c6c6c" stroke="#0b0b0b" stroke-width="2.5"/>
<line x1="1758.2" y1="727.4" x2="1758.2" y2="735.6" stroke="#0b0b0b" stroke-width="2.5" stroke-linecap="butt"/>
<line x1="1751.6" y1="728.6" x2="1764.8" y2="728.6" stroke="#0b0b0b" stroke-width="2.5" stroke-linecap="butt"/>
<line x1="1357.4" y1="604.8" x2="1357.4" y2="835.5" stroke="#0b0b0b" stroke-width="2.8" stroke-linecap="butt"/>
<line x1="1356" y1="834.1" x2="1790.6" y2="834.1" stroke="#0b0b0b" stroke-width="2.9" stroke-linecap="butt"/>
<line x1="1351.9" y1="834.1" x2="1357.4" y2="834.1" stroke="#0b0b0b" stroke-width="2.6" stroke-linecap="butt"/>
<text x="1338.5" y="840.2" font-size="22.4" font-weight="bold" text-anchor="end" fill="#0b0b0b">0</text>
<line x1="1351.9" y1="758.1" x2="1357.4" y2="758.1" stroke="#0b0b0b" stroke-width="2.6" stroke-linecap="butt"/>
<text x="1346.8" y="764.2" font-size="22.4" font-weight="bold" text-anchor="end" fill="#0b0b0b">1.0<tspan font-size="17" font-weight="normal" fill="#3a3a3a" dx="0.4">&#215;</tspan><tspan dx="0.4">10</tspan><tspan font-size="12.5" dy="-8.4" dx="0.3">6</tspan></text>
<line x1="1351.9" y1="682.1" x2="1357.4" y2="682.1" stroke="#0b0b0b" stroke-width="2.6" stroke-linecap="butt"/>
<text x="1346.8" y="688.2" font-size="22.4" font-weight="bold" text-anchor="end" fill="#0b0b0b">2.0<tspan font-size="17" font-weight="normal" fill="#3a3a3a" dx="0.4">&#215;</tspan><tspan dx="0.4">10</tspan><tspan font-size="12.5" dy="-8.4" dx="0.3">6</tspan></text>
<line x1="1351.9" y1="606.1" x2="1357.4" y2="606.1" stroke="#0b0b0b" stroke-width="2.6" stroke-linecap="butt"/>
<text x="1346.8" y="612.2" font-size="22.4" font-weight="bold" text-anchor="end" fill="#0b0b0b">3.0<tspan font-size="17" font-weight="normal" fill="#3a3a3a" dx="0.4">&#215;</tspan><tspan dx="0.4">10</tspan><tspan font-size="12.5" dy="-8.4" dx="0.3">6</tspan></text>
<line x1="1390.4" y1="834.1" x2="1390.4" y2="839.4" stroke="#0b0b0b" stroke-width="2.4" stroke-linecap="butt"/>
<text transform="translate(1391.75 867.6) scale(1 1)" font-size="17" font-weight="bold" text-anchor="middle" letter-spacing="1.7" fill="#1c1c1c">LD</text>
<line x1="1429.75" y1="834.1" x2="1429.75" y2="839.4" stroke="#0b0b0b" stroke-width="2.4" stroke-linecap="butt"/>
<text transform="translate(1433.75 867.6) scale(1 1)" font-size="17" font-weight="bold" text-anchor="middle" letter-spacing="1.7" fill="#1c1c1c">MD</text>
<line x1="1469" y1="834.1" x2="1469" y2="839.4" stroke="#0b0b0b" stroke-width="2.4" stroke-linecap="butt"/>
<text transform="translate(1470.65 867.6) scale(1 1)" font-size="17" font-weight="bold" text-anchor="middle" letter-spacing="1.7" fill="#1c1c1c">HD</text>
<line x1="1535" y1="834.1" x2="1535" y2="839.4" stroke="#0b0b0b" stroke-width="2.4" stroke-linecap="butt"/>
<text transform="translate(1537.15 867.6) scale(1 1)" font-size="17" font-weight="bold" text-anchor="middle" letter-spacing="1.7" fill="#1c1c1c">LD</text>
<line x1="1574" y1="834.1" x2="1574" y2="839.4" stroke="#0b0b0b" stroke-width="2.4" stroke-linecap="butt"/>
<text transform="translate(1579.25 867.6) scale(1 1)" font-size="17" font-weight="bold" text-anchor="middle" letter-spacing="1.7" fill="#1c1c1c">MD</text>
<line x1="1613.4" y1="834.1" x2="1613.4" y2="839.4" stroke="#0b0b0b" stroke-width="2.4" stroke-linecap="butt"/>
<text transform="translate(1615.95 867.6) scale(1 1)" font-size="17" font-weight="bold" text-anchor="middle" letter-spacing="1.7" fill="#1c1c1c">HD</text>
<line x1="1679.5" y1="834.1" x2="1679.5" y2="839.4" stroke="#0b0b0b" stroke-width="2.4" stroke-linecap="butt"/>
<text transform="translate(1681.45 867.6) scale(1 1)" font-size="17" font-weight="bold" text-anchor="middle" letter-spacing="1.7" fill="#1c1c1c">LD</text>
<line x1="1718.75" y1="834.1" x2="1718.75" y2="839.4" stroke="#0b0b0b" stroke-width="2.4" stroke-linecap="butt"/>
<text transform="translate(1723.35 867.6) scale(1 1)" font-size="17" font-weight="bold" text-anchor="middle" letter-spacing="1.7" fill="#1c1c1c">MD</text>
<line x1="1758.2" y1="834.1" x2="1758.2" y2="839.4" stroke="#0b0b0b" stroke-width="2.4" stroke-linecap="butt"/>
<text transform="translate(1760.25 867.6) scale(1 1)" font-size="17" font-weight="bold" text-anchor="middle" letter-spacing="1.7" fill="#1c1c1c">HD</text>
<circle cx="1390.5" cy="724" r="4.15" fill="none" stroke="#0b0b0b" stroke-width="3.05"/>
<circle cx="1383.75" cy="771" r="4.15" fill="none" stroke="#0b0b0b" stroke-width="3.05"/>
<circle cx="1397.5" cy="771" r="4.15" fill="none" stroke="#0b0b0b" stroke-width="3.05"/>
<circle cx="1390.5" cy="766" r="4.15" fill="none" stroke="#0b0b0b" stroke-width="3.05"/>
<circle cx="1390.5" cy="783.5" r="4.15" fill="none" stroke="#0b0b0b" stroke-width="3.05"/>
<circle cx="1385" cy="768" r="4.15" fill="none" stroke="#0b0b0b" stroke-width="3.05"/>
<circle cx="1423.25" cy="753" r="4.15" fill="none" stroke="#0b0b0b" stroke-width="3.05"/>
<circle cx="1436.25" cy="757.25" r="4.15" fill="none" stroke="#0b0b0b" stroke-width="3.05"/>
<circle cx="1422.5" cy="784.75" r="4.15" fill="none" stroke="#0b0b0b" stroke-width="3.05"/>
<circle cx="1436.25" cy="784.75" r="4.15" fill="none" stroke="#0b0b0b" stroke-width="3.05"/>
<circle cx="1426.25" cy="793" r="4.15" fill="none" stroke="#0b0b0b" stroke-width="3.05"/>
<circle cx="1433.75" cy="792.25" r="4.15" fill="none" stroke="#0b0b0b" stroke-width="3.05"/>
<circle cx="1469.25" cy="713.5" r="4.15" fill="none" stroke="#0b0b0b" stroke-width="3.05"/>
<circle cx="1469.25" cy="736" r="4.15" fill="none" stroke="#0b0b0b" stroke-width="3.05"/>
<circle cx="1462.5" cy="750.5" r="4.15" fill="none" stroke="#0b0b0b" stroke-width="3.05"/>
<circle cx="1476.25" cy="749.75" r="4.15" fill="none" stroke="#0b0b0b" stroke-width="3.05"/>
<circle cx="1469.25" cy="754.75" r="4.15" fill="none" stroke="#0b0b0b" stroke-width="3.05"/>
<circle cx="1469.25" cy="784" r="4.15" fill="none" stroke="#0b0b0b" stroke-width="3.05"/>
<circle cx="1535" cy="764.25" r="4.15" fill="none" stroke="#0b0b0b" stroke-width="3.05"/>
<circle cx="1528" cy="812.25" r="4.15" fill="none" stroke="#0b0b0b" stroke-width="3.05"/>
<circle cx="1535" cy="813.5" r="4.15" fill="none" stroke="#0b0b0b" stroke-width="3.05"/>
<circle cx="1541.75" cy="811" r="4.15" fill="none" stroke="#0b0b0b" stroke-width="3.05"/>
<circle cx="1531.25" cy="821" r="4.15" fill="none" stroke="#0b0b0b" stroke-width="3.05"/>
<circle cx="1538" cy="812" r="4.15" fill="none" stroke="#0b0b0b" stroke-width="3.05"/>
<circle cx="1574.25" cy="695.25" r="4.15" fill="none" stroke="#0b0b0b" stroke-width="3.05"/>
<circle cx="1567.5" cy="734.75" r="4.15" fill="none" stroke="#0b0b0b" stroke-width="3.05"/>
<circle cx="1581.25" cy="737.25" r="4.15" fill="none" stroke="#0b0b0b" stroke-width="3.05"/>
<circle cx="1571.25" cy="742.25" r="4.15" fill="none" stroke="#0b0b0b" stroke-width="3.05"/>
<circle cx="1577.5" cy="746" r="4.15" fill="none" stroke="#0b0b0b" stroke-width="3.05"/>
<circle cx="1574.25" cy="769.75" r="4.15" fill="none" stroke="#0b0b0b" stroke-width="3.05"/>
<circle cx="1613.5" cy="653.6" r="4.15" fill="none" stroke="#0b0b0b" stroke-width="3.05"/>
<circle cx="1613.5" cy="678.8" r="4.15" fill="none" stroke="#0b0b0b" stroke-width="3.05"/>
<circle cx="1613.5" cy="701.5" r="4.15" fill="none" stroke="#0b0b0b" stroke-width="3.05"/>
<circle cx="1613.5" cy="717.7" r="4.15" fill="none" stroke="#0b0b0b" stroke-width="3.05"/>
<circle cx="1613.5" cy="736.4" r="4.15" fill="none" stroke="#0b0b0b" stroke-width="3.05"/>
<circle cx="1613.5" cy="777" r="4.15" fill="none" stroke="#0b0b0b" stroke-width="3.05"/>
<circle cx="1679.7" cy="723.8" r="4.15" fill="none" stroke="#0b0b0b" stroke-width="3.05"/>
<circle cx="1672.5" cy="737" r="4.15" fill="none" stroke="#0b0b0b" stroke-width="3.05"/>
<circle cx="1686.2" cy="736.4" r="4.15" fill="none" stroke="#0b0b0b" stroke-width="3.05"/>
<circle cx="1679.7" cy="778.9" r="4.15" fill="none" stroke="#0b0b0b" stroke-width="3.05"/>
<circle cx="1686.2" cy="789.3" r="4.15" fill="none" stroke="#0b0b0b" stroke-width="3.05"/>
<circle cx="1672.9" cy="796.9" r="4.15" fill="none" stroke="#0b0b0b" stroke-width="3.05"/>
<circle cx="1718.6" cy="777.8" r="4.15" fill="none" stroke="#0b0b0b" stroke-width="3.05"/>
<circle cx="1711.4" cy="785" r="4.15" fill="none" stroke="#0b0b0b" stroke-width="3.05"/>
<circle cx="1725.8" cy="782.5" r="4.15" fill="none" stroke="#0b0b0b" stroke-width="3.05"/>
<circle cx="1718.6" cy="788.6" r="4.15" fill="none" stroke="#0b0b0b" stroke-width="3.05"/>
<circle cx="1715" cy="794.7" r="4.15" fill="none" stroke="#0b0b0b" stroke-width="3.05"/>
<circle cx="1722" cy="787" r="4.15" fill="none" stroke="#0b0b0b" stroke-width="3.05"/>
<circle cx="1758.2" cy="698.6" r="4.15" fill="none" stroke="#0b0b0b" stroke-width="3.05"/>
<circle cx="1752" cy="731" r="4.15" fill="none" stroke="#0b0b0b" stroke-width="3.05"/>
<circle cx="1764.7" cy="728.5" r="4.15" fill="none" stroke="#0b0b0b" stroke-width="3.05"/>
<circle cx="1758.2" cy="745.4" r="4.15" fill="none" stroke="#0b0b0b" stroke-width="3.05"/>
<circle cx="1764.7" cy="747.2" r="4.15" fill="none" stroke="#0b0b0b" stroke-width="3.05"/>
<circle cx="1752" cy="759.8" r="4.15" fill="none" stroke="#0b0b0b" stroke-width="3.05"/>
<line x1="1542.1" y1="634.25" x2="1611.4" y2="634.25" stroke="#0b0b0b" stroke-width="3.2" stroke-linecap="round"/>
<text class="st" x="1580.6" y="632.1" font-size="18.3" font-weight="bold" text-anchor="middle" letter-spacing="3.3" fill="#131313" stroke="#131313" stroke-width="0.8">***</text>
<line x1="1542.1" y1="674.25" x2="1574.65" y2="674.25" stroke="#0b0b0b" stroke-width="3.2" stroke-linecap="round"/>
<text class="st" x="1561.1" y="672.6" font-size="18.3" font-weight="bold" text-anchor="middle" letter-spacing="3.3" fill="#131313" stroke="#131313" stroke-width="0.8">**</text>
<line x1="1725.6" y1="681.3" x2="1757.7" y2="681.3" stroke="#0b0b0b" stroke-width="3.2" stroke-linecap="round"/>
<text class="st" x="1743.85" y="677.6" font-size="18.3" font-weight="bold" text-anchor="middle" letter-spacing="3.3" fill="#131313" stroke="#131313" stroke-width="0.8">**</text>
<text transform="translate(1226.5 501) scale(1 1)" font-size="44" font-weight="bold" fill="#0b0b0b">f</text>
<text x="1368.8" y="516" font-size="25.7" font-weight="bold" text-anchor="start" fill="#0b0b0b">B cells</text>
<text transform="translate(1254.8 710.3) rotate(-90)" font-size="25.6" font-weight="bold" text-anchor="middle" letter-spacing="0" fill="#0b0b0b">Liver B cells number</text>
</g>
<g id="legend">
<rect x="1784.8" y="22.4" width="22.4" height="11.2" rx="1" fill="#ffffff" stroke="#0b0b0b" stroke-width="2.4"/>
<text x="1819.3" y="33.2" font-size="17.6" font-weight="bold" text-anchor="start" fill="#0b0b0b" letter-spacing="-0.15">2 weeks</text>
<rect x="1784.8" y="47.4" width="22.4" height="11.2" rx="1" fill="#a4a4a4" stroke="#0b0b0b" stroke-width="2.4"/>
<text x="1819.3" y="58" font-size="17.6" font-weight="bold" text-anchor="start" fill="#0b0b0b" letter-spacing="-0.15">12 weeks</text>
<rect x="1784.8" y="72.4" width="22.4" height="11.2" rx="1" fill="#6c6c6c" stroke="#0b0b0b" stroke-width="2.4"/>
<text x="1819.3" y="82.8" font-size="17.6" font-weight="bold" text-anchor="start" fill="#0b0b0b" letter-spacing="-0.15">24 weeks</text>
</g>
</svg></body></html>
